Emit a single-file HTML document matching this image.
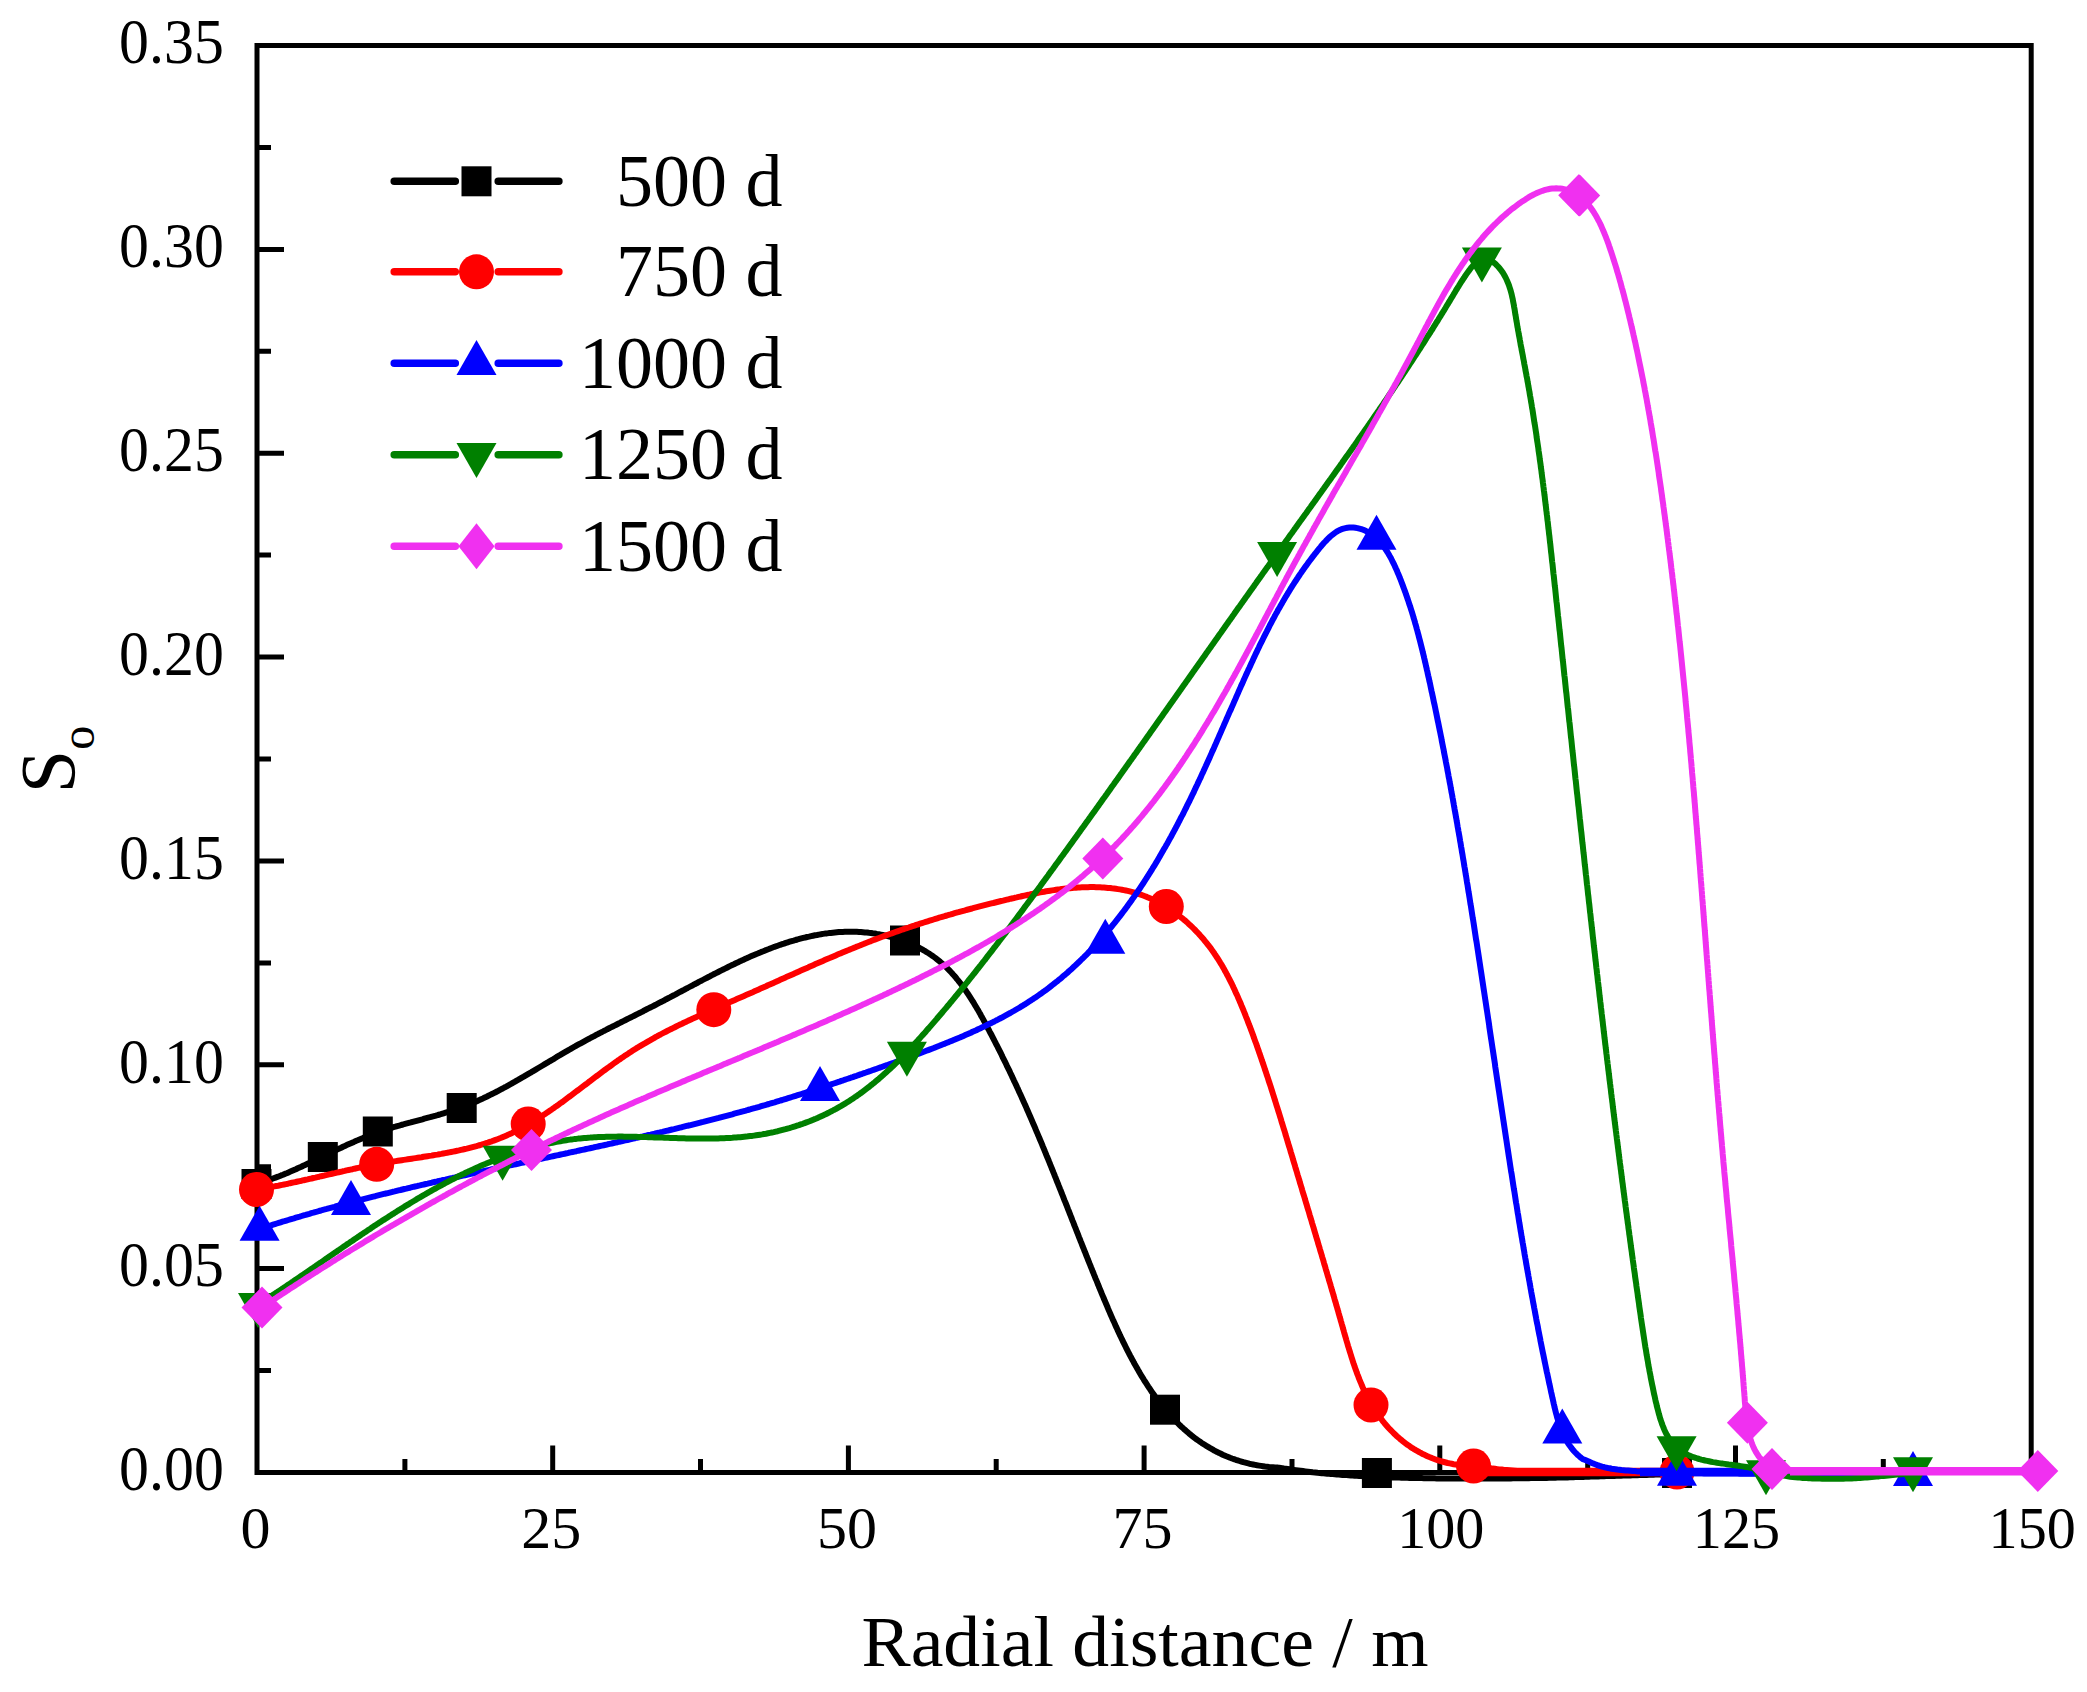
<!DOCTYPE html><html><head><meta charset="utf-8"><style>html,body{margin:0;padding:0;background:#fff;}svg{display:block;}</style></head><body>
<svg width="2087" height="1692" viewBox="0 0 2087 1692">
<rect width="2087" height="1692" fill="#fff"/>
<rect x="257.0" y="45.5" width="1774.2" height="1427.0" fill="none" stroke="#000" stroke-width="5"/>
<path d="M257.0,1268.6H284.0M257.0,1064.8H284.0M257.0,860.9H284.0M257.0,657.1H284.0M257.0,453.2H284.0M257.0,249.4H284.0M257.0,1370.6H271.0M257.0,1166.7H271.0M257.0,962.9H271.0M257.0,759.0H271.0M257.0,555.1H271.0M257.0,351.3H271.0M257.0,147.4H271.0M552.7,1472.5V1445.5M848.4,1472.5V1445.5M1144.1,1472.5V1445.5M1439.8,1472.5V1445.5M1735.5,1472.5V1445.5M404.9,1472.5V1459.0M700.5,1472.5V1459.0M996.2,1472.5V1459.0M1292.0,1472.5V1459.0M1587.7,1472.5V1459.0M1883.3,1472.5V1459.0" stroke="#000" stroke-width="5" fill="none"/>
<text transform="translate(223.8,1490.2) scale(0.935,1)" font-family="'Liberation Serif','Times New Roman',serif" font-size="64" text-anchor="end">0.00</text>
<text transform="translate(223.8,1286.3) scale(0.935,1)" font-family="'Liberation Serif','Times New Roman',serif" font-size="64" text-anchor="end">0.05</text>
<text transform="translate(223.8,1082.5) scale(0.935,1)" font-family="'Liberation Serif','Times New Roman',serif" font-size="64" text-anchor="end">0.10</text>
<text transform="translate(223.8,878.6) scale(0.935,1)" font-family="'Liberation Serif','Times New Roman',serif" font-size="64" text-anchor="end">0.15</text>
<text transform="translate(223.8,674.8) scale(0.935,1)" font-family="'Liberation Serif','Times New Roman',serif" font-size="64" text-anchor="end">0.20</text>
<text transform="translate(223.8,470.9) scale(0.935,1)" font-family="'Liberation Serif','Times New Roman',serif" font-size="64" text-anchor="end">0.25</text>
<text transform="translate(223.8,267.1) scale(0.935,1)" font-family="'Liberation Serif','Times New Roman',serif" font-size="64" text-anchor="end">0.30</text>
<text transform="translate(223.8,63.2) scale(0.935,1)" font-family="'Liberation Serif','Times New Roman',serif" font-size="64" text-anchor="end">0.35</text>
<text x="255.5" y="1548" font-family="'Liberation Serif','Times New Roman',serif" font-size="60" text-anchor="middle">0</text>
<text x="551.2" y="1548" font-family="'Liberation Serif','Times New Roman',serif" font-size="60" text-anchor="middle">25</text>
<text x="846.9" y="1548" font-family="'Liberation Serif','Times New Roman',serif" font-size="60" text-anchor="middle">50</text>
<text x="1142.6" y="1548" font-family="'Liberation Serif','Times New Roman',serif" font-size="60" text-anchor="middle">75</text>
<text transform="translate(1440.8,1548) scale(0.97,1)" font-family="'Liberation Serif','Times New Roman',serif" font-size="60" text-anchor="middle">100</text>
<text transform="translate(1736.5,1548) scale(0.97,1)" font-family="'Liberation Serif','Times New Roman',serif" font-size="60" text-anchor="middle">125</text>
<text transform="translate(2032.2,1548) scale(0.97,1)" font-family="'Liberation Serif','Times New Roman',serif" font-size="60" text-anchor="middle">150</text>
<text transform="translate(1145,1665.5) scale(1.024,1)" font-family="'Liberation Serif','Times New Roman',serif" font-size="72" text-anchor="middle">Radial distance / m</text>
<text transform="translate(74.2,759.5) rotate(-90)" font-family="'Liberation Serif','Times New Roman',serif" font-size="78" text-anchor="middle">S<tspan font-size="48" dy="20">o</tspan></text>
<path d="M256.5,1184.0L258.4,1183.5 260.3,1182.9 262.3,1182.3 264.2,1181.6 266.1,1181.0 268.0,1180.4 269.9,1179.7 271.7,1179.0 273.6,1178.3 275.5,1177.6 277.4,1176.9 279.2,1176.2 281.1,1175.4 283.0,1174.7 284.8,1173.9 286.7,1173.2 288.5,1172.4 290.4,1171.6 292.2,1170.8 294.0,1170.0 295.9,1169.2 297.7,1168.3 299.5,1167.5 301.4,1166.7 303.2,1165.8 305.0,1165.0 306.8,1164.1 308.6,1163.3 310.4,1162.4 312.2,1161.6 314.1,1160.7 315.9,1159.8 317.7,1159.0 319.5,1158.1 321.3,1157.2 323.1,1156.3 324.9,1155.5 326.7,1154.6 328.5,1153.7 330.3,1152.9 332.1,1152.0 333.9,1151.1 335.7,1150.3 337.5,1149.4 339.4,1148.5 341.2,1147.7 343.0,1146.8 344.8,1146.0 346.6,1145.1 348.4,1144.3 350.3,1143.5 352.1,1142.7 353.9,1141.9 355.8,1141.0 357.6,1140.3 359.5,1139.5 361.3,1138.7 363.2,1137.9 365.0,1137.2 366.9,1136.4 368.7,1135.7 370.6,1134.9 372.5,1134.2 374.4,1133.5 376.2,1132.8 378.1,1132.2 380.0,1131.5 381.9,1130.9 383.8,1130.2 385.7,1129.6 387.6,1129.0 389.6,1128.4 391.5,1127.8 393.4,1127.2 395.3,1126.7 397.2,1126.1 399.2,1125.6 401.1,1125.0 403.0,1124.5 405.0,1123.9 406.9,1123.4 408.8,1122.9 410.8,1122.4 412.7,1121.8 414.6,1121.3 416.6,1120.8 418.5,1120.3 420.5,1119.8 422.4,1119.3 424.3,1118.7 426.3,1118.2 428.2,1117.7 430.1,1117.2 432.1,1116.6 434.0,1116.1 435.9,1115.6 437.9,1115.0 439.8,1114.5 441.7,1113.9 443.6,1113.3 445.6,1112.7 447.5,1112.1 449.4,1111.5 451.3,1110.9 453.2,1110.3 455.1,1109.7 457.0,1109.0 458.9,1108.3 460.8,1107.7 462.7,1107.0 464.5,1106.3 466.4,1105.5 468.3,1104.8 470.1,1104.0 472.0,1103.3 473.8,1102.5 475.7,1101.7 477.5,1100.9 479.3,1100.1 481.1,1099.2 483.0,1098.4 484.8,1097.5 486.6,1096.7 488.4,1095.8 490.2,1094.9 492.0,1094.0 493.8,1093.1 495.6,1092.2 497.4,1091.3 499.1,1090.4 500.9,1089.4 502.7,1088.5 504.4,1087.5 506.2,1086.6 508.0,1085.6 509.7,1084.7 511.5,1083.7 513.2,1082.7 515.0,1081.7 516.7,1080.7 518.5,1079.7 520.2,1078.7 521.9,1077.7 523.7,1076.7 525.4,1075.7 527.1,1074.7 528.8,1073.7 530.6,1072.7 532.3,1071.6 534.0,1070.6 535.7,1069.6 537.5,1068.5 539.2,1067.5 540.9,1066.5 542.6,1065.5 544.4,1064.4 546.1,1063.4 547.8,1062.4 549.5,1061.3 551.2,1060.3 553.0,1059.3 554.7,1058.3 556.4,1057.2 558.1,1056.2 559.9,1055.2 561.6,1054.2 563.3,1053.2 565.0,1052.2 566.8,1051.1 568.5,1050.1 570.3,1049.1 572.0,1048.1 573.7,1047.2 575.5,1046.2 577.2,1045.2 579.0,1044.2 580.7,1043.3 582.5,1042.3 584.3,1041.3 586.0,1040.4 587.8,1039.4 589.6,1038.5 591.3,1037.5 593.1,1036.6 594.9,1035.7 596.7,1034.7 598.4,1033.8 600.2,1032.9 602.0,1032.0 603.8,1031.0 605.6,1030.1 607.3,1029.2 609.1,1028.3 610.9,1027.4 612.7,1026.5 614.5,1025.6 616.3,1024.7 618.1,1023.8 619.9,1022.9 621.6,1022.0 623.4,1021.1 625.2,1020.2 627.0,1019.3 628.8,1018.4 630.6,1017.5 632.4,1016.6 634.2,1015.7 636.0,1014.8 637.8,1013.9 639.6,1013.0 641.4,1012.1 643.2,1011.2 644.9,1010.2 646.7,1009.3 648.5,1008.4 650.3,1007.5 652.1,1006.6 653.9,1005.7 655.7,1004.8 657.4,1003.9 659.2,1002.9 661.0,1002.0 662.8,1001.1 664.6,1000.2 666.3,999.2 668.1,998.3 669.9,997.4 671.7,996.4 673.4,995.5 675.2,994.6 677.0,993.6 678.7,992.7 680.5,991.7 682.3,990.8 684.1,989.9 685.8,988.9 687.6,988.0 689.4,987.0 691.1,986.1 692.9,985.2 694.7,984.2 696.5,983.3 698.2,982.3 700.0,981.4 701.8,980.5 703.6,979.5 705.3,978.6 707.1,977.7 708.9,976.8 710.7,975.8 712.5,974.9 714.2,974.0 716.0,973.1 717.8,972.2 719.6,971.3 721.4,970.4 723.2,969.5 725.0,968.6 726.8,967.7 728.6,966.8 730.4,965.9 732.2,965.0 734.0,964.2 735.8,963.3 737.6,962.5 739.4,961.6 741.2,960.8 743.1,959.9 744.9,959.1 746.7,958.3 748.5,957.4 750.4,956.6 752.2,955.8 754.1,955.0 755.9,954.2 757.7,953.5 759.6,952.7 761.4,951.9 763.3,951.2 765.2,950.4 767.0,949.7 768.9,949.0 770.8,948.2 772.7,947.5 774.5,946.8 776.4,946.2 778.3,945.5 780.2,944.8 782.1,944.2 784.0,943.6 785.9,942.9 787.8,942.3 789.7,941.7 791.7,941.1 793.6,940.6 795.5,940.0 797.4,939.5 799.4,938.9 801.3,938.4 803.3,937.9 805.2,937.5 807.1,937.0 809.1,936.6 811.1,936.1 813.0,935.7 815.0,935.3 817.0,935.0 818.9,934.6 820.9,934.3 822.9,933.9 824.9,933.6 826.9,933.4 828.9,933.1 830.8,932.9 832.8,932.7 834.8,932.5 836.8,932.3 838.8,932.1 840.8,932.0 842.8,931.9 844.8,931.8 846.8,931.8 848.8,931.7 850.9,931.7 852.9,931.7 854.9,931.8 856.9,931.8 858.9,931.9 860.9,932.0 862.9,932.2 864.9,932.4 866.9,932.5 868.9,932.8 870.8,933.0 872.8,933.3 874.8,933.5 876.8,933.9 878.8,934.2 880.7,934.6 882.7,935.0 884.7,935.4 886.6,935.8 888.6,936.3 890.5,936.8 892.5,937.3 894.4,937.9 896.3,938.5 898.2,939.1 900.1,939.7 902.0,940.3 903.9,941.0 905.8,941.7 907.6,942.5 909.5,943.2 911.3,944.0 913.2,944.9 915.0,945.7 916.8,946.6 918.6,947.5 920.3,948.4 922.1,949.4 923.8,950.4 925.6,951.4 927.3,952.5 929.0,953.5 930.6,954.6 932.3,955.8 933.9,956.9 935.6,958.1 937.1,959.3 938.7,960.6 940.3,961.9 941.8,963.2 943.3,964.5 944.8,965.8 946.2,967.2 947.6,968.6 949.1,970.1 950.4,971.5 951.8,973.0 953.1,974.5 954.5,976.0 955.8,977.5 957.0,979.1 958.3,980.6 959.5,982.2 960.8,983.8 962.0,985.4 963.2,987.0 964.3,988.6 965.5,990.3 966.6,991.9 967.7,993.6 968.9,995.3 969.9,996.9 971.0,998.6 972.1,1000.3 973.2,1002.0 974.2,1003.7 975.2,1005.4 976.3,1007.2 977.3,1008.9 978.3,1010.6 979.3,1012.4 980.3,1014.1 981.2,1015.9 982.2,1017.6 983.2,1019.4 984.1,1021.1 985.1,1022.9 986.0,1024.7 987.0,1026.4 987.9,1028.2 988.9,1030.0 989.8,1031.8 990.7,1033.5 991.7,1035.3 992.6,1037.1 993.5,1038.9 994.4,1040.7 995.3,1042.4 996.2,1044.2 997.2,1046.0 998.1,1047.8 999.0,1049.6 999.9,1051.4 1000.8,1053.2 1001.7,1055.0 1002.5,1056.8 1003.4,1058.6 1004.3,1060.4 1005.2,1062.2 1006.1,1064.0 1006.9,1065.8 1007.8,1067.6 1008.7,1069.4 1009.6,1071.2 1010.4,1073.0 1011.3,1074.8 1012.1,1076.6 1013.0,1078.5 1013.8,1080.3 1014.7,1082.1 1015.5,1083.9 1016.4,1085.7 1017.2,1087.5 1018.1,1089.4 1018.9,1091.2 1019.7,1093.0 1020.6,1094.8 1021.4,1096.7 1022.2,1098.5 1023.0,1100.3 1023.8,1102.2 1024.7,1104.0 1025.5,1105.8 1026.3,1107.6 1027.1,1109.5 1027.9,1111.3 1028.7,1113.2 1029.5,1115.0 1030.3,1116.8 1031.1,1118.7 1031.9,1120.5 1032.7,1122.4 1033.5,1124.2 1034.3,1126.0 1035.1,1127.9 1035.8,1129.7 1036.6,1131.6 1037.4,1133.4 1038.2,1135.3 1039.0,1137.1 1039.7,1139.0 1040.5,1140.8 1041.3,1142.7 1042.1,1144.5 1042.8,1146.4 1043.6,1148.2 1044.4,1150.1 1045.1,1151.9 1045.9,1153.8 1046.6,1155.6 1047.4,1157.5 1048.2,1159.4 1048.9,1161.2 1049.7,1163.1 1050.4,1164.9 1051.2,1166.8 1051.9,1168.7 1052.7,1170.5 1053.4,1172.4 1054.2,1174.2 1054.9,1176.1 1055.7,1178.0 1056.4,1179.8 1057.1,1181.7 1057.9,1183.5 1058.6,1185.4 1059.4,1187.3 1060.1,1189.1 1060.9,1191.0 1061.6,1192.9 1062.3,1194.7 1063.1,1196.6 1063.8,1198.5 1064.5,1200.3 1065.3,1202.2 1066.0,1204.0 1066.8,1205.9 1067.5,1207.8 1068.2,1209.6 1069.0,1211.5 1069.7,1213.4 1070.4,1215.2 1071.2,1217.1 1071.9,1219.0 1072.6,1220.8 1073.4,1222.7 1074.1,1224.6 1074.8,1226.4 1075.6,1228.3 1076.3,1230.2 1077.0,1232.0 1077.8,1233.9 1078.5,1235.8 1079.2,1237.6 1080.0,1239.5 1080.7,1241.4 1081.5,1243.2 1082.2,1245.1 1082.9,1247.0 1083.7,1248.8 1084.4,1250.7 1085.2,1252.5 1085.9,1254.4 1086.6,1256.3 1087.4,1258.1 1088.1,1260.0 1088.9,1261.9 1089.6,1263.7 1090.4,1265.6 1091.1,1267.4 1091.9,1269.3 1092.6,1271.2 1093.4,1273.0 1094.1,1274.9 1094.9,1276.7 1095.6,1278.6 1096.4,1280.4 1097.2,1282.3 1097.9,1284.2 1098.7,1286.0 1099.4,1287.9 1100.2,1289.7 1101.0,1291.6 1101.7,1293.4 1102.5,1295.3 1103.3,1297.1 1104.0,1299.0 1104.8,1300.8 1105.6,1302.7 1106.4,1304.5 1107.2,1306.4 1107.9,1308.2 1108.7,1310.1 1109.5,1311.9 1110.3,1313.7 1111.1,1315.6 1111.9,1317.4 1112.7,1319.2 1113.6,1321.1 1114.4,1322.9 1115.2,1324.7 1116.0,1326.6 1116.9,1328.4 1117.7,1330.2 1118.5,1332.0 1119.4,1333.9 1120.2,1335.7 1121.1,1337.5 1122.0,1339.3 1122.8,1341.1 1123.7,1342.9 1124.6,1344.7 1125.5,1346.5 1126.4,1348.3 1127.3,1350.1 1128.2,1351.9 1129.1,1353.6 1130.0,1355.4 1131.0,1357.2 1131.9,1359.0 1132.9,1360.7 1133.8,1362.5 1134.8,1364.3 1135.8,1366.0 1136.8,1367.7 1137.8,1369.5 1138.8,1371.2 1139.8,1373.0 1140.8,1374.7 1141.8,1376.4 1142.9,1378.1 1143.9,1379.8 1145.0,1381.5 1146.1,1383.2 1147.2,1384.9 1148.3,1386.6 1149.4,1388.2 1150.5,1389.9 1151.6,1391.6 1152.8,1393.2 1153.9,1394.8 1155.1,1396.5 1156.3,1398.1 1157.5,1399.7 1158.7,1401.3 1159.9,1402.9 1161.1,1404.5 1162.4,1406.0 1163.7,1407.6 1164.9,1409.1 1166.2,1410.7 1167.5,1412.2 1168.8,1413.7 1170.2,1415.2 1171.5,1416.7 1172.9,1418.2 1174.3,1419.6 1175.7,1421.1 1177.1,1422.5 1178.5,1423.9 1179.9,1425.3 1181.4,1426.7 1182.9,1428.0 1184.3,1429.4 1185.9,1430.7 1187.4,1432.0 1188.9,1433.3 1190.5,1434.6 1192.0,1435.8 1193.6,1437.1 1195.2,1438.3 1196.8,1439.5 1198.4,1440.6 1200.1,1441.8 1201.7,1442.9 1203.4,1444.0 1205.1,1445.1 1206.8,1446.2 1208.5,1447.2 1210.2,1448.2 1212.0,1449.2 1213.7,1450.2 1215.5,1451.1 1217.3,1452.1 1219.1,1452.9 1220.9,1453.8 1222.7,1454.7 1224.5,1455.5 1226.4,1456.3 1228.2,1457.0 1230.1,1457.8 1232.0,1458.5 1233.9,1459.1 1235.8,1459.8 1237.7,1460.4 1239.6,1461.0 1241.5,1461.6 1243.4,1462.2 1245.4,1462.7 1247.3,1463.2 1249.3,1463.7 1251.2,1464.1 1253.2,1464.5 1255.1,1464.9 1257.1,1465.3 1259.1,1465.6 1261.1,1465.9 1263.0,1466.2 1265.0,1466.5 1267.0,1466.7 1269.0,1467.0 1271.0,1467.2 1273.0,1467.3 1275.0,1467.5 1276.9,1467.5 1278.0,1467.6 1279.3,1467.8 1280.7,1468.0 1282.2,1468.2 1283.9,1468.5 1285.7,1468.7 1287.6,1469.0 1289.6,1469.3 1291.6,1469.6 1293.8,1469.9 1296.0,1470.2 1298.3,1470.5 1300.6,1470.8 1303.0,1471.1 1305.4,1471.4 1307.9,1471.7 1310.3,1472.0 1312.7,1472.3 1315.2,1472.5 1317.6,1472.8 1320.0,1473.0 1321.8,1473.2 1323.6,1473.3 1325.4,1473.5 1327.3,1473.7 1329.1,1473.8 1331.0,1474.0 1332.9,1474.1 1334.8,1474.3 1336.7,1474.4 1338.6,1474.6 1340.6,1474.7 1342.6,1474.9 1344.6,1475.0 1346.6,1475.1 1348.6,1475.3 1350.7,1475.4 1352.7,1475.5 1354.8,1475.7 1356.9,1475.8 1359.1,1475.9 1361.2,1476.0 1363.4,1476.2 1365.6,1476.3 1367.8,1476.4 1370.0,1476.5 1372.3,1476.6 1374.6,1476.7 1376.9,1476.8 1378.7,1476.9 1380.5,1476.9 1382.4,1477.0 1384.2,1477.1 1386.1,1477.2 1388.0,1477.2 1389.8,1477.3 1391.7,1477.4 1393.6,1477.4 1395.6,1477.5 1397.5,1477.5 1399.4,1477.6 1401.4,1477.7 1403.4,1477.7 1405.4,1477.8 1407.4,1477.8 1409.4,1477.9 1411.4,1477.9 1413.4,1478.0 1415.5,1478.0 1417.5,1478.1 1419.6,1478.1 1421.7,1478.1 1423.8,1478.2 1425.9,1478.2 1428.0,1478.2 1430.2,1478.3 1432.3,1478.3 1434.5,1478.3 1436.7,1478.4 1438.8,1478.4 1441.0,1478.4 1443.3,1478.4 1445.5,1478.5 1447.7,1478.5 1450.0,1478.5 1451.8,1478.5 1453.7,1478.5 1455.6,1478.5 1457.4,1478.5 1459.4,1478.5 1461.3,1478.6 1463.3,1478.6 1465.2,1478.6 1467.2,1478.6 1469.2,1478.6 1471.3,1478.6 1473.3,1478.6 1475.4,1478.6 1477.4,1478.6 1479.5,1478.6 1481.6,1478.5 1483.7,1478.5 1485.7,1478.5 1487.8,1478.5 1489.9,1478.5 1492.0,1478.5 1494.1,1478.5 1496.2,1478.5 1498.3,1478.5 1500.4,1478.4 1502.5,1478.4 1504.6,1478.4 1506.7,1478.4 1508.8,1478.4 1510.9,1478.4 1512.9,1478.3 1515.0,1478.3 1517.0,1478.3 1519.0,1478.3 1521.0,1478.3 1523.0,1478.2 1525.0,1478.2 1526.9,1478.2 1528.9,1478.2 1530.8,1478.1 1532.7,1478.1 1534.5,1478.1 1536.4,1478.1 1538.2,1478.0 1540.0,1478.0 1542.3,1478.0 1544.5,1477.9 1546.7,1477.9 1548.9,1477.8 1551.1,1477.8 1553.2,1477.7 1555.3,1477.7 1557.4,1477.6 1559.5,1477.6 1561.5,1477.5 1563.6,1477.5 1565.6,1477.4 1567.6,1477.4 1569.6,1477.3 1571.6,1477.2 1573.5,1477.2 1575.5,1477.1 1577.4,1477.1 1579.3,1477.0 1581.3,1476.9 1583.2,1476.9 1585.1,1476.8 1587.0,1476.7 1588.9,1476.7 1590.8,1476.6 1592.7,1476.6 1594.6,1476.5 1596.5,1476.4 1598.4,1476.4 1600.3,1476.3 1602.3,1476.2 1604.2,1476.2 1606.1,1476.1 1608.0,1476.1 1610.0,1476.0 1612.1,1475.9 1614.3,1475.9 1616.5,1475.8 1618.7,1475.7 1621.0,1475.7 1623.3,1475.6 1625.6,1475.5 1627.9,1475.5 1630.3,1475.4 1632.7,1475.3 1635.0,1475.3 1637.4,1475.2 1639.8,1475.1 1642.1,1475.0 1644.4,1475.0 1646.7,1474.9 1649.0,1474.8 1651.2,1474.8 1653.4,1474.7 1655.6,1474.6 1657.7,1474.6 1659.7,1474.5 1661.7,1474.5 1663.6,1474.4 1665.5,1474.3 1667.3,1474.3 1668.9,1474.2 1670.5,1474.2 1672.0,1474.1 1673.4,1474.1 1674.7,1474.1 1675.9,1474.0 1677.0,1474.0" fill="none" stroke="#000000" stroke-width="6" stroke-linejoin="round" stroke-linecap="round"/>
<rect x="241.5" y="1169.0" width="30" height="30" fill="#000000"/>
<rect x="307.8" y="1142.0" width="30" height="30" fill="#000000"/>
<rect x="362.8" y="1116.5" width="30" height="30" fill="#000000"/>
<rect x="446.7" y="1093.0" width="30" height="30" fill="#000000"/>
<rect x="890.0" y="925.5" width="30" height="30" fill="#000000"/>
<rect x="1150.0" y="1394.7" width="30" height="30" fill="#000000"/>
<rect x="1361.9" y="1458.0" width="30" height="30" fill="#000000"/>
<rect x="1662.0" y="1458.0" width="30" height="30" fill="#000000"/>
<path d="M256.5,1189.5L258.5,1189.2 260.5,1188.9 262.4,1188.6 264.4,1188.2 266.4,1187.9 268.4,1187.5 270.3,1187.2 272.3,1186.8 274.3,1186.4 276.2,1186.0 278.2,1185.7 280.2,1185.3 282.1,1184.9 284.1,1184.5 286.0,1184.1 288.0,1183.7 290.0,1183.2 291.9,1182.8 293.9,1182.4 295.8,1182.0 297.8,1181.5 299.8,1181.1 301.7,1180.7 303.7,1180.2 305.6,1179.8 307.6,1179.4 309.5,1178.9 311.5,1178.5 313.4,1178.0 315.4,1177.6 317.3,1177.1 319.3,1176.7 321.2,1176.2 323.2,1175.8 325.1,1175.3 327.1,1174.9 329.1,1174.4 331.0,1174.0 333.0,1173.5 334.9,1173.1 336.9,1172.6 338.8,1172.2 340.8,1171.8 342.7,1171.3 344.7,1170.9 346.6,1170.4 348.6,1170.0 350.5,1169.6 352.5,1169.2 354.5,1168.7 356.4,1168.3 358.4,1167.9 360.3,1167.5 362.3,1167.1 364.3,1166.7 366.2,1166.3 368.2,1165.9 370.2,1165.6 372.1,1165.2 374.1,1164.8 376.1,1164.5 378.0,1164.1 380.0,1163.7 382.0,1163.4 384.0,1163.1 385.9,1162.7 387.9,1162.4 389.9,1162.1 391.9,1161.8 393.9,1161.4 395.8,1161.1 397.8,1160.8 399.8,1160.5 401.8,1160.2 403.7,1159.9 405.7,1159.6 407.7,1159.3 409.7,1159.0 411.7,1158.7 413.6,1158.4 415.6,1158.1 417.6,1157.8 419.6,1157.5 421.6,1157.2 423.5,1156.8 425.5,1156.5 427.5,1156.2 429.5,1155.9 431.5,1155.6 433.4,1155.2 435.4,1154.9 437.4,1154.6 439.4,1154.2 441.3,1153.9 443.3,1153.5 445.3,1153.1 447.2,1152.8 449.2,1152.4 451.2,1152.0 453.1,1151.6 455.1,1151.2 457.1,1150.8 459.0,1150.4 461.0,1149.9 462.9,1149.5 464.9,1149.0 466.8,1148.6 468.8,1148.1 470.7,1147.6 472.6,1147.1 474.6,1146.6 476.5,1146.1 478.4,1145.5 480.4,1145.0 482.3,1144.4 484.2,1143.8 486.1,1143.2 488.0,1142.6 489.9,1141.9 491.8,1141.3 493.7,1140.6 495.6,1139.9 497.5,1139.2 499.3,1138.5 501.2,1137.8 503.0,1137.0 504.9,1136.2 506.7,1135.4 508.5,1134.6 510.4,1133.7 512.2,1132.9 514.0,1132.0 515.8,1131.1 517.6,1130.2 519.3,1129.3 521.1,1128.4 522.9,1127.4 524.6,1126.4 526.4,1125.5 528.1,1124.5 529.8,1123.5 531.6,1122.4 533.3,1121.4 535.0,1120.4 536.7,1119.3 538.4,1118.2 540.1,1117.2 541.8,1116.1 543.4,1115.0 545.1,1113.9 546.8,1112.8 548.4,1111.7 550.1,1110.5 551.8,1109.4 553.4,1108.3 555.0,1107.1 556.7,1106.0 558.3,1104.8 559.9,1103.6 561.6,1102.5 563.2,1101.3 564.8,1100.1 566.4,1098.9 568.0,1097.7 569.6,1096.5 571.2,1095.3 572.8,1094.1 574.4,1092.9 576.0,1091.7 577.6,1090.5 579.2,1089.3 580.8,1088.1 582.4,1086.9 584.0,1085.7 585.6,1084.5 587.2,1083.3 588.8,1082.0 590.4,1080.8 592.0,1079.6 593.6,1078.4 595.2,1077.2 596.8,1076.0 598.4,1074.8 600.0,1073.6 601.6,1072.4 603.2,1071.2 604.8,1070.0 606.4,1068.8 608.1,1067.6 609.7,1066.5 611.3,1065.3 612.9,1064.1 614.6,1062.9 616.2,1061.8 617.8,1060.6 619.5,1059.5 621.1,1058.3 622.8,1057.2 624.4,1056.1 626.1,1055.0 627.8,1053.9 629.4,1052.8 631.1,1051.7 632.8,1050.6 634.5,1049.5 636.2,1048.4 637.9,1047.4 639.6,1046.3 641.3,1045.3 643.0,1044.3 644.8,1043.3 646.5,1042.3 648.2,1041.3 650.0,1040.3 651.7,1039.3 653.5,1038.3 655.2,1037.3 657.0,1036.4 658.7,1035.4 660.5,1034.5 662.3,1033.5 664.0,1032.6 665.8,1031.7 667.6,1030.8 669.4,1029.9 671.2,1029.0 673.0,1028.1 674.8,1027.2 676.6,1026.3 678.4,1025.4 680.2,1024.5 682.0,1023.7 683.8,1022.8 685.6,1022.0 687.4,1021.1 689.2,1020.2 691.0,1019.4 692.8,1018.6 694.7,1017.7 696.5,1016.9 698.3,1016.1 700.1,1015.2 702.0,1014.4 703.8,1013.6 705.6,1012.8 707.4,1012.0 709.3,1011.1 711.1,1010.3 712.9,1009.5 714.8,1008.7 716.6,1007.9 718.4,1007.1 720.3,1006.3 722.1,1005.5 723.9,1004.7 725.8,1003.9 727.6,1003.1 729.5,1002.3 731.3,1001.5 733.1,1000.7 735.0,999.9 736.8,999.1 738.6,998.3 740.5,997.5 742.3,996.7 744.1,995.9 746.0,995.1 747.8,994.3 749.6,993.5 751.5,992.7 753.3,991.9 755.1,991.0 757.0,990.2 758.8,989.4 760.6,988.6 762.5,987.8 764.3,987.0 766.1,986.2 767.9,985.3 769.8,984.5 771.6,983.7 773.4,982.9 775.3,982.1 777.1,981.2 778.9,980.4 780.7,979.6 782.6,978.8 784.4,978.0 786.2,977.1 788.1,976.3 789.9,975.5 791.7,974.7 793.5,973.9 795.4,973.1 797.2,972.2 799.0,971.4 800.9,970.6 802.7,969.8 804.5,969.0 806.4,968.2 808.2,967.4 810.0,966.5 811.9,965.7 813.7,964.9 815.5,964.1 817.4,963.3 819.2,962.5 821.0,961.7 822.9,960.9 824.7,960.1 826.5,959.3 828.4,958.5 830.2,957.8 832.1,957.0 833.9,956.2 835.7,955.4 837.6,954.6 839.4,953.8 841.3,953.1 843.1,952.3 845.0,951.5 846.8,950.7 848.7,950.0 850.5,949.2 852.4,948.5 854.2,947.7 856.1,946.9 858.0,946.2 859.8,945.5 861.7,944.7 863.5,944.0 865.4,943.2 867.3,942.5 869.1,941.8 871.0,941.1 872.9,940.3 874.7,939.6 876.6,938.9 878.5,938.2 880.4,937.5 882.2,936.8 884.1,936.1 886.0,935.4 887.9,934.7 889.8,934.0 891.7,933.4 893.5,932.7 895.4,932.0 897.3,931.4 899.2,930.7 901.1,930.0 903.0,929.4 904.9,928.7 906.8,928.1 908.7,927.5 910.6,926.8 912.5,926.2 914.4,925.6 916.3,924.9 918.2,924.3 920.1,923.7 922.0,923.1 923.9,922.5 925.8,921.9 927.7,921.3 929.6,920.7 931.6,920.1 933.5,919.5 935.4,918.9 937.3,918.3 939.2,917.7 941.1,917.2 943.1,916.6 945.0,916.0 946.9,915.5 948.8,914.9 950.8,914.4 952.7,913.8 954.6,913.2 956.5,912.7 958.5,912.2 960.4,911.6 962.3,911.1 964.3,910.6 966.2,910.0 968.1,909.5 970.1,909.0 972.0,908.5 973.9,907.9 975.9,907.4 977.8,906.9 979.7,906.4 981.7,905.9 983.6,905.4 985.6,904.9 987.5,904.4 989.4,903.9 991.4,903.4 993.3,903.0 995.3,902.5 997.2,902.0 999.2,901.5 1001.1,901.0 1003.1,900.6 1005.0,900.1 1006.9,899.6 1008.9,899.2 1010.8,898.7 1012.8,898.3 1014.7,897.8 1016.7,897.4 1018.7,896.9 1020.6,896.5 1022.6,896.0 1024.5,895.6 1026.5,895.2 1028.4,894.8 1030.4,894.3 1032.4,893.9 1034.3,893.5 1036.3,893.2 1038.3,892.8 1040.2,892.4 1042.2,892.0 1044.2,891.7 1046.1,891.3 1048.1,891.0 1050.1,890.7 1052.1,890.4 1054.0,890.1 1056.0,889.8 1058.0,889.5 1060.0,889.3 1062.0,889.0 1064.0,888.8 1066.0,888.6 1068.0,888.3 1070.0,888.2 1072.0,888.0 1073.9,887.8 1075.9,887.7 1077.9,887.5 1079.9,887.4 1081.9,887.3 1083.9,887.3 1085.9,887.2 1088.0,887.2 1090.0,887.1 1092.0,887.1 1094.0,887.1 1096.0,887.2 1098.0,887.2 1100.0,887.3 1102.0,887.4 1104.0,887.5 1106.0,887.7 1108.0,887.9 1110.0,888.0 1111.9,888.3 1113.9,888.5 1115.9,888.8 1117.9,889.1 1119.9,889.4 1121.9,889.7 1123.8,890.1 1125.8,890.5 1127.7,890.9 1129.7,891.4 1131.6,891.9 1133.6,892.4 1135.5,893.0 1137.4,893.6 1139.3,894.2 1141.2,894.8 1143.1,895.5 1145.0,896.2 1146.8,896.9 1148.7,897.7 1150.5,898.5 1152.3,899.3 1154.1,900.2 1155.9,901.1 1157.7,902.0 1159.5,902.9 1161.3,903.9 1163.0,904.9 1164.7,905.9 1166.4,906.9 1168.1,908.0 1169.8,909.1 1171.5,910.2 1173.1,911.3 1174.8,912.5 1176.4,913.7 1178.0,914.9 1179.6,916.1 1181.1,917.4 1182.7,918.6 1184.2,919.9 1185.8,921.2 1187.3,922.5 1188.7,923.9 1190.2,925.2 1191.7,926.6 1193.1,928.0 1194.5,929.4 1195.9,930.9 1197.3,932.3 1198.7,933.8 1200.0,935.3 1201.3,936.7 1202.7,938.3 1204.0,939.8 1205.2,941.3 1206.5,942.9 1207.7,944.5 1209.0,946.0 1210.2,947.6 1211.4,949.3 1212.5,950.9 1213.7,952.5 1214.8,954.2 1215.9,955.8 1217.0,957.5 1218.1,959.2 1219.2,960.9 1220.2,962.6 1221.3,964.3 1222.3,966.0 1223.3,967.8 1224.3,969.5 1225.2,971.3 1226.2,973.0 1227.1,974.8 1228.1,976.6 1229.0,978.3 1229.9,980.1 1230.8,981.9 1231.7,983.7 1232.6,985.5 1233.4,987.3 1234.3,989.1 1235.1,991.0 1235.9,992.8 1236.8,994.6 1237.6,996.4 1238.4,998.3 1239.2,1000.1 1240.0,1002.0 1240.8,1003.8 1241.5,1005.6 1242.3,1007.5 1243.1,1009.4 1243.8,1011.2 1244.6,1013.1 1245.3,1014.9 1246.0,1016.8 1246.8,1018.7 1247.5,1020.5 1248.2,1022.4 1248.9,1024.3 1249.7,1026.1 1250.4,1028.0 1251.1,1029.9 1251.8,1031.8 1252.5,1033.6 1253.2,1035.5 1253.8,1037.4 1254.5,1039.3 1255.2,1041.2 1255.9,1043.0 1256.6,1044.9 1257.2,1046.8 1257.9,1048.7 1258.6,1050.6 1259.2,1052.5 1259.9,1054.4 1260.5,1056.3 1261.2,1058.2 1261.8,1060.1 1262.5,1062.0 1263.1,1063.9 1263.8,1065.8 1264.4,1067.7 1265.0,1069.6 1265.7,1071.5 1266.3,1073.4 1266.9,1075.3 1267.6,1077.2 1268.2,1079.1 1268.8,1081.0 1269.4,1082.9 1270.1,1084.8 1270.7,1086.7 1271.3,1088.6 1271.9,1090.5 1272.5,1092.4 1273.1,1094.3 1273.7,1096.2 1274.3,1098.1 1274.9,1100.0 1275.5,1102.0 1276.1,1103.9 1276.7,1105.8 1277.3,1107.7 1277.9,1109.6 1278.5,1111.5 1279.1,1113.4 1279.7,1115.3 1280.3,1117.3 1280.9,1119.2 1281.4,1121.1 1282.0,1123.0 1282.6,1124.9 1283.2,1126.8 1283.8,1128.8 1284.4,1130.7 1285.0,1132.6 1285.5,1134.5 1286.1,1136.4 1286.7,1138.3 1287.3,1140.3 1287.8,1142.2 1288.4,1144.1 1289.0,1146.0 1289.6,1147.9 1290.2,1149.8 1290.7,1151.8 1291.3,1153.7 1291.9,1155.6 1292.5,1157.5 1293.0,1159.4 1293.6,1161.4 1294.2,1163.3 1294.8,1165.2 1295.3,1167.1 1295.9,1169.0 1296.5,1171.0 1297.1,1172.9 1297.6,1174.8 1298.2,1176.7 1298.8,1178.6 1299.4,1180.5 1299.9,1182.5 1300.5,1184.4 1301.1,1186.3 1301.7,1188.2 1302.2,1190.1 1302.8,1192.1 1303.4,1194.0 1304.0,1195.9 1304.6,1197.8 1305.1,1199.7 1305.7,1201.6 1306.3,1203.6 1306.9,1205.5 1307.4,1207.4 1308.0,1209.3 1308.6,1211.2 1309.2,1213.2 1309.7,1215.1 1310.3,1217.0 1310.9,1218.9 1311.5,1220.8 1312.0,1222.8 1312.6,1224.7 1313.2,1226.6 1313.8,1228.5 1314.3,1230.4 1314.9,1232.4 1315.5,1234.3 1316.0,1236.2 1316.6,1238.1 1317.2,1240.0 1317.8,1241.9 1318.3,1243.9 1318.9,1245.8 1319.5,1247.7 1320.0,1249.6 1320.6,1251.5 1321.2,1253.5 1321.8,1255.4 1322.3,1257.3 1322.9,1259.2 1323.5,1261.2 1324.0,1263.1 1324.6,1265.0 1325.2,1266.9 1325.7,1268.8 1326.3,1270.8 1326.9,1272.7 1327.4,1274.6 1328.0,1276.5 1328.6,1278.4 1329.1,1280.4 1329.7,1282.3 1330.3,1284.2 1330.8,1286.1 1331.4,1288.1 1331.9,1290.0 1332.5,1291.9 1333.1,1293.8 1333.6,1295.7 1334.2,1297.7 1334.7,1299.6 1335.3,1301.5 1335.9,1303.4 1336.4,1305.4 1337.0,1307.3 1337.5,1309.2 1338.1,1311.1 1338.6,1313.1 1339.2,1315.0 1339.7,1316.9 1340.3,1318.8 1340.8,1320.8 1341.4,1322.7 1341.9,1324.6 1342.5,1326.5 1343.0,1328.5 1343.6,1330.4 1344.1,1332.3 1344.7,1334.3 1345.2,1336.2 1345.8,1338.1 1346.3,1340.0 1346.9,1342.0 1347.5,1343.9 1348.0,1345.8 1348.6,1347.7 1349.2,1349.6 1349.8,1351.5 1350.4,1353.5 1351.0,1355.4 1351.6,1357.3 1352.2,1359.2 1352.8,1361.1 1353.4,1363.0 1354.1,1364.9 1354.7,1366.8 1355.4,1368.7 1356.1,1370.6 1356.7,1372.4 1357.4,1374.3 1358.2,1376.2 1358.9,1378.1 1359.6,1379.9 1360.4,1381.8 1361.2,1383.6 1361.9,1385.5 1362.7,1387.3 1363.6,1389.1 1364.4,1391.0 1365.3,1392.8 1366.1,1394.6 1367.0,1396.4 1368.0,1398.1 1368.9,1399.9 1369.9,1401.7 1370.8,1403.4 1371.8,1405.1 1372.9,1406.9 1373.9,1408.6 1375.0,1410.2 1376.1,1411.9 1377.2,1413.6 1378.4,1415.2 1379.6,1416.8 1380.8,1418.4 1382.0,1420.0 1383.2,1421.6 1384.5,1423.2 1385.8,1424.7 1387.1,1426.2 1388.4,1427.7 1389.8,1429.2 1391.2,1430.6 1392.6,1432.0 1394.0,1433.5 1395.4,1434.8 1396.9,1436.2 1398.4,1437.5 1399.9,1438.8 1401.5,1440.1 1403.0,1441.4 1404.6,1442.6 1406.2,1443.8 1407.8,1445.0 1409.5,1446.1 1411.1,1447.3 1412.8,1448.3 1414.5,1449.4 1416.2,1450.4 1418.0,1451.4 1419.7,1452.4 1421.5,1453.3 1423.3,1454.3 1425.1,1455.1 1426.9,1456.0 1428.7,1456.8 1430.6,1457.5 1432.4,1458.3 1434.3,1459.0 1436.2,1459.7 1438.1,1460.3 1440.0,1460.9 1441.9,1461.5 1443.9,1462.0 1445.8,1462.5 1447.7,1463.0 1449.7,1463.4 1451.7,1463.8 1453.6,1464.2 1455.6,1464.5 1457.6,1464.8 1459.6,1465.1 1461.6,1465.3 1463.6,1465.5 1465.6,1465.6 1467.6,1465.8 1469.6,1465.9 1471.6,1465.9 1473.5,1466.0 1474.6,1466.1 1475.7,1466.3 1477.0,1466.4 1478.4,1466.6 1479.9,1466.8 1481.5,1467.0 1483.1,1467.3 1484.9,1467.5 1486.8,1467.8 1488.7,1468.0 1490.7,1468.3 1492.8,1468.6 1495.0,1468.8 1497.2,1469.1 1499.5,1469.4 1501.9,1469.6 1504.3,1469.9 1506.8,1470.1 1509.3,1470.3 1511.9,1470.5 1514.6,1470.7 1517.3,1470.9 1520.0,1471.0 1521.6,1471.1 1523.2,1471.1 1524.9,1471.2 1526.7,1471.3 1528.4,1471.3 1530.2,1471.4 1532.0,1471.4 1533.9,1471.5 1535.8,1471.5 1537.7,1471.6 1539.7,1471.6 1541.6,1471.6 1543.6,1471.7 1545.6,1471.7 1547.7,1471.7 1549.7,1471.7 1551.8,1471.8 1553.9,1471.8 1556.0,1471.8 1558.1,1471.8 1560.2,1471.8 1562.3,1471.8 1564.5,1471.9 1566.6,1471.9 1568.7,1471.9 1570.9,1471.9 1573.0,1471.9 1575.2,1471.9 1577.3,1471.9 1579.4,1471.9 1581.5,1471.9 1583.7,1471.9 1585.8,1471.9 1587.8,1471.9 1589.9,1472.0 1592.0,1472.0 1594.0,1472.0 1596.0,1472.0 1598.0,1472.0 1600.0,1472.0 1602.1,1472.0 1604.2,1472.0 1606.4,1472.0 1608.6,1472.0 1610.9,1472.0 1613.1,1472.1 1615.4,1472.1 1617.8,1472.1 1620.1,1472.1 1622.4,1472.1 1624.8,1472.1 1627.2,1472.1 1629.5,1472.1 1631.9,1472.1 1634.2,1472.1 1636.6,1472.1 1638.9,1472.1 1641.2,1472.1 1643.5,1472.1 1645.8,1472.1 1648.0,1472.1 1650.2,1472.1 1652.3,1472.0 1654.4,1472.0 1656.5,1472.0 1658.5,1472.0 1660.4,1472.0 1662.3,1472.0 1664.1,1472.0 1665.9,1472.0 1667.6,1472.0 1669.2,1472.0 1670.7,1472.0 1672.2,1472.0 1673.5,1472.0 1674.8,1472.0 1675.9,1472.0 1677.0,1472.0" fill="none" stroke="#ff0000" stroke-width="6" stroke-linejoin="round" stroke-linecap="round"/>
<path d="M1480.0,1471.9H1677.0" stroke="#ff0000" stroke-width="8.5" fill="none"/>
<circle cx="256.5" cy="1189.5" r="17.5" fill="#ff0000"/>
<circle cx="376.7" cy="1164.3" r="17.5" fill="#ff0000"/>
<circle cx="528.2" cy="1124.0" r="17.5" fill="#ff0000"/>
<circle cx="713.8" cy="1009.7" r="17.5" fill="#ff0000"/>
<circle cx="1166.3" cy="906.5" r="17.5" fill="#ff0000"/>
<circle cx="1371.0" cy="1405.0" r="17.5" fill="#ff0000"/>
<circle cx="1473.5" cy="1466.0" r="17.5" fill="#ff0000"/>
<circle cx="1677.0" cy="1472.0" r="17.5" fill="#ff0000"/>
<path d="M259.6,1229.0L261.5,1228.4 263.4,1227.8 265.3,1227.1 267.2,1226.5 269.2,1225.9 271.1,1225.3 273.0,1224.7 274.9,1224.1 276.8,1223.5 278.7,1222.9 280.6,1222.3 282.5,1221.7 284.4,1221.2 286.4,1220.6 288.3,1220.0 290.2,1219.4 292.1,1218.8 294.0,1218.3 295.9,1217.7 297.9,1217.1 299.8,1216.6 301.7,1216.0 303.6,1215.4 305.6,1214.9 307.5,1214.3 309.4,1213.8 311.3,1213.2 313.3,1212.7 315.2,1212.1 317.1,1211.6 319.0,1211.0 321.0,1210.5 322.9,1209.9 324.8,1209.4 326.7,1208.9 328.7,1208.3 330.6,1207.8 332.5,1207.3 334.5,1206.8 336.4,1206.2 338.3,1205.7 340.3,1205.2 342.2,1204.7 344.1,1204.2 346.1,1203.6 348.0,1203.1 349.9,1202.6 351.9,1202.1 353.8,1201.6 355.8,1201.1 357.7,1200.6 359.6,1200.1 361.6,1199.6 363.5,1199.1 365.5,1198.6 367.4,1198.1 369.3,1197.6 371.3,1197.1 373.2,1196.6 375.2,1196.2 377.1,1195.7 379.0,1195.2 381.0,1194.7 382.9,1194.2 384.9,1193.7 386.8,1193.3 388.8,1192.8 390.7,1192.3 392.7,1191.8 394.6,1191.4 396.6,1190.9 398.5,1190.4 400.4,1190.0 402.4,1189.5 404.3,1189.0 406.3,1188.6 408.2,1188.1 410.2,1187.7 412.1,1187.2 414.1,1186.7 416.0,1186.3 418.0,1185.8 419.9,1185.4 421.9,1184.9 423.8,1184.5 425.8,1184.0 427.7,1183.6 429.7,1183.1 431.6,1182.7 433.6,1182.2 435.5,1181.8 437.5,1181.3 439.4,1180.9 441.4,1180.5 443.4,1180.0 445.3,1179.6 447.3,1179.1 449.2,1178.7 451.2,1178.3 453.1,1177.8 455.1,1177.4 457.0,1176.9 459.0,1176.5 460.9,1176.1 462.9,1175.6 464.9,1175.2 466.8,1174.8 468.8,1174.4 470.7,1173.9 472.7,1173.5 474.6,1173.1 476.6,1172.6 478.5,1172.2 480.5,1171.8 482.5,1171.4 484.4,1170.9 486.4,1170.5 488.3,1170.1 490.3,1169.7 492.2,1169.2 494.2,1168.8 496.2,1168.4 498.1,1168.0 500.1,1167.5 502.0,1167.1 504.0,1166.7 505.9,1166.3 507.9,1165.9 509.9,1165.4 511.8,1165.0 513.8,1164.6 515.7,1164.2 517.7,1163.8 519.6,1163.3 521.6,1162.9 523.6,1162.5 525.5,1162.1 527.5,1161.7 529.4,1161.2 531.4,1160.8 533.3,1160.4 535.3,1160.0 537.3,1159.6 539.2,1159.1 541.2,1158.7 543.1,1158.3 545.1,1157.9 547.1,1157.5 549.0,1157.1 551.0,1156.6 552.9,1156.2 554.9,1155.8 556.8,1155.4 558.8,1155.0 560.8,1154.5 562.7,1154.1 564.7,1153.7 566.6,1153.3 568.6,1152.8 570.5,1152.4 572.5,1152.0 574.5,1151.6 576.4,1151.2 578.4,1150.7 580.3,1150.3 582.3,1149.9 584.2,1149.5 586.2,1149.0 588.2,1148.6 590.1,1148.2 592.1,1147.8 594.0,1147.3 596.0,1146.9 597.9,1146.5 599.9,1146.0 601.9,1145.6 603.8,1145.2 605.8,1144.8 607.7,1144.3 609.7,1143.9 611.6,1143.5 613.6,1143.0 615.5,1142.6 617.5,1142.2 619.4,1141.7 621.4,1141.3 623.4,1140.8 625.3,1140.4 627.3,1140.0 629.2,1139.5 631.2,1139.1 633.1,1138.6 635.1,1138.2 637.0,1137.7 639.0,1137.3 640.9,1136.8 642.9,1136.4 644.8,1135.9 646.8,1135.5 648.7,1135.0 650.7,1134.6 652.6,1134.1 654.6,1133.7 656.5,1133.2 658.5,1132.8 660.4,1132.3 662.4,1131.9 664.3,1131.4 666.3,1130.9 668.2,1130.5 670.2,1130.0 672.1,1129.5 674.1,1129.1 676.0,1128.6 678.0,1128.1 679.9,1127.6 681.8,1127.2 683.8,1126.7 685.7,1126.2 687.7,1125.7 689.6,1125.3 691.6,1124.8 693.5,1124.3 695.5,1123.8 697.4,1123.3 699.3,1122.8 701.3,1122.3 703.2,1121.9 705.2,1121.4 707.1,1120.9 709.0,1120.4 711.0,1119.9 712.9,1119.4 714.9,1118.9 716.8,1118.4 718.7,1117.9 720.7,1117.3 722.6,1116.8 724.5,1116.3 726.5,1115.8 728.4,1115.3 730.3,1114.8 732.3,1114.3 734.2,1113.7 736.1,1113.2 738.1,1112.7 740.0,1112.2 741.9,1111.6 743.9,1111.1 745.8,1110.6 747.7,1110.0 749.7,1109.5 751.6,1108.9 753.5,1108.4 755.4,1107.9 757.4,1107.3 759.3,1106.8 761.2,1106.2 763.1,1105.6 765.1,1105.1 767.0,1104.5 768.9,1104.0 770.8,1103.4 772.7,1102.8 774.7,1102.3 776.6,1101.7 778.5,1101.1 780.4,1100.5 782.3,1100.0 784.2,1099.4 786.2,1098.8 788.1,1098.2 790.0,1097.6 791.9,1097.0 793.8,1096.4 795.7,1095.8 797.6,1095.2 799.6,1094.6 801.5,1094.0 803.4,1093.4 805.3,1092.8 807.2,1092.2 809.1,1091.6 811.0,1091.0 812.9,1090.4 814.8,1089.8 816.7,1089.1 818.6,1088.5 820.5,1087.9 822.4,1087.3 824.3,1086.6 826.2,1086.0 828.1,1085.4 830.0,1084.8 831.9,1084.1 833.8,1083.5 835.7,1082.9 837.6,1082.2 839.5,1081.6 841.4,1080.9 843.3,1080.3 845.2,1079.6 847.1,1079.0 849.0,1078.4 850.9,1077.7 852.8,1077.1 854.7,1076.4 856.6,1075.8 858.5,1075.1 860.4,1074.4 862.2,1073.8 864.1,1073.1 866.0,1072.5 867.9,1071.8 869.8,1071.2 871.7,1070.5 873.6,1069.8 875.5,1069.2 877.4,1068.5 879.3,1067.8 881.1,1067.2 883.0,1066.5 884.9,1065.8 886.8,1065.2 888.7,1064.5 890.6,1063.8 892.5,1063.2 894.4,1062.5 896.2,1061.8 898.1,1061.2 900.0,1060.5 901.9,1059.8 903.8,1059.1 905.7,1058.4 907.6,1057.8 909.4,1057.1 911.3,1056.4 913.2,1055.7 915.1,1055.0 917.0,1054.3 918.8,1053.6 920.7,1052.9 922.6,1052.2 924.5,1051.5 926.3,1050.8 928.2,1050.1 930.1,1049.4 931.9,1048.7 933.8,1048.0 935.7,1047.2 937.5,1046.5 939.4,1045.8 941.3,1045.0 943.1,1044.3 945.0,1043.6 946.9,1042.8 948.7,1042.1 950.6,1041.3 952.4,1040.6 954.3,1039.8 956.1,1039.0 958.0,1038.2 959.8,1037.5 961.6,1036.7 963.5,1035.9 965.3,1035.1 967.2,1034.3 969.0,1033.5 970.8,1032.7 972.6,1031.8 974.5,1031.0 976.3,1030.2 978.1,1029.3 979.9,1028.5 981.7,1027.6 983.5,1026.8 985.3,1025.9 987.1,1025.0 988.9,1024.1 990.7,1023.3 992.5,1022.4 994.3,1021.5 996.1,1020.5 997.9,1019.6 999.6,1018.7 1001.4,1017.8 1003.2,1016.8 1004.9,1015.9 1006.7,1014.9 1008.5,1013.9 1010.2,1013.0 1011.9,1012.0 1013.7,1011.0 1015.4,1010.0 1017.1,1009.0 1018.9,1008.0 1020.6,1006.9 1022.3,1005.9 1024.0,1004.8 1025.7,1003.8 1027.4,1002.7 1029.1,1001.6 1030.8,1000.5 1032.4,999.4 1034.1,998.3 1035.8,997.2 1037.4,996.1 1039.1,994.9 1040.7,993.8 1042.3,992.6 1043.9,991.4 1045.6,990.3 1047.2,989.1 1048.8,987.9 1050.4,986.6 1051.9,985.4 1053.5,984.2 1055.1,982.9 1056.7,981.7 1058.2,980.4 1059.8,979.2 1061.3,977.9 1062.8,976.6 1064.3,975.3 1065.9,974.0 1067.4,972.7 1068.9,971.3 1070.4,970.0 1071.9,968.7 1073.3,967.3 1074.8,965.9 1076.3,964.6 1077.7,963.2 1079.2,961.8 1080.6,960.4 1082.0,959.0 1083.5,957.6 1084.9,956.2 1086.3,954.8 1087.7,953.4 1089.1,951.9 1090.5,950.5 1091.8,949.0 1093.2,947.6 1094.6,946.1 1095.9,944.6 1097.3,943.1 1098.6,941.7 1100.0,940.2 1101.3,938.7 1102.6,937.2 1103.9,935.6 1105.2,934.1 1106.5,932.6 1107.8,931.1 1109.1,929.5 1110.4,928.0 1111.7,926.5 1112.9,924.9 1114.2,923.3 1115.4,921.8 1116.7,920.2 1117.9,918.6 1119.1,917.1 1120.4,915.5 1121.6,913.9 1122.8,912.3 1124.0,910.7 1125.2,909.1 1126.4,907.5 1127.6,905.9 1128.7,904.2 1129.9,902.6 1131.1,901.0 1132.2,899.3 1133.4,897.7 1134.5,896.1 1135.7,894.4 1136.8,892.8 1137.9,891.1 1139.1,889.5 1140.2,887.8 1141.3,886.1 1142.4,884.5 1143.5,882.8 1144.6,881.1 1145.7,879.4 1146.8,877.8 1147.8,876.1 1148.9,874.4 1150.0,872.7 1151.0,871.0 1152.1,869.3 1153.1,867.6 1154.2,865.9 1155.2,864.2 1156.3,862.4 1157.3,860.7 1158.3,859.0 1159.3,857.3 1160.3,855.5 1161.3,853.8 1162.3,852.1 1163.3,850.3 1164.3,848.6 1165.3,846.9 1166.3,845.1 1167.3,843.4 1168.3,841.6 1169.2,839.9 1170.2,838.1 1171.2,836.4 1172.1,834.6 1173.1,832.8 1174.0,831.1 1175.0,829.3 1175.9,827.5 1176.8,825.8 1177.8,824.0 1178.7,822.2 1179.6,820.5 1180.5,818.7 1181.4,816.9 1182.4,815.1 1183.3,813.3 1184.2,811.5 1185.1,809.7 1186.0,808.0 1186.8,806.2 1187.7,804.4 1188.6,802.6 1189.5,800.8 1190.4,799.0 1191.3,797.2 1192.1,795.4 1193.0,793.6 1193.9,791.8 1194.7,789.9 1195.6,788.1 1196.4,786.3 1197.3,784.5 1198.1,782.7 1199.0,780.9 1199.8,779.1 1200.7,777.3 1201.5,775.4 1202.3,773.6 1203.2,771.8 1204.0,770.0 1204.8,768.2 1205.7,766.3 1206.5,764.5 1207.3,762.7 1208.2,760.9 1209.0,759.0 1209.8,757.2 1210.6,755.4 1211.4,753.6 1212.2,751.7 1213.1,749.9 1213.9,748.1 1214.7,746.2 1215.5,744.4 1216.3,742.6 1217.1,740.7 1217.9,738.9 1218.7,737.1 1219.5,735.2 1220.3,733.4 1221.1,731.6 1221.9,729.7 1222.7,727.9 1223.5,726.1 1224.3,724.2 1225.1,722.4 1225.9,720.6 1226.7,718.7 1227.5,716.9 1228.3,715.1 1229.1,713.2 1229.9,711.4 1230.8,709.6 1231.6,707.7 1232.4,705.9 1233.2,704.1 1234.0,702.2 1234.8,700.4 1235.6,698.6 1236.4,696.7 1237.2,694.9 1238.0,693.1 1238.8,691.2 1239.6,689.4 1240.4,687.6 1241.2,685.7 1242.1,683.9 1242.9,682.1 1243.7,680.2 1244.5,678.4 1245.3,676.6 1246.1,674.8 1247.0,672.9 1247.8,671.1 1248.6,669.3 1249.5,667.5 1250.3,665.7 1251.1,663.8 1252.0,662.0 1252.8,660.2 1253.6,658.4 1254.5,656.6 1255.3,654.8 1256.2,652.9 1257.1,651.1 1257.9,649.3 1258.8,647.5 1259.6,645.7 1260.5,643.9 1261.4,642.1 1262.3,640.3 1263.2,638.5 1264.1,636.7 1265.0,634.9 1265.9,633.1 1266.8,631.4 1267.7,629.6 1268.6,627.8 1269.5,626.0 1270.4,624.2 1271.4,622.5 1272.3,620.7 1273.2,618.9 1274.2,617.2 1275.1,615.4 1276.1,613.6 1277.1,611.9 1278.0,610.1 1279.0,608.4 1280.0,606.7 1281.0,604.9 1282.0,603.2 1283.0,601.4 1284.0,599.7 1285.0,598.0 1286.0,596.3 1287.1,594.6 1288.1,592.8 1289.2,591.1 1290.2,589.4 1291.3,587.7 1292.3,586.0 1293.4,584.4 1294.5,582.7 1295.6,581.0 1296.7,579.3 1297.8,577.7 1298.9,576.0 1300.0,574.3 1301.2,572.7 1302.3,571.0 1303.5,569.4 1304.6,567.8 1305.8,566.1 1307.0,564.5 1308.1,562.9 1309.3,561.3 1310.5,559.7 1311.7,558.1 1312.9,556.5 1314.2,554.9 1315.4,553.3 1316.6,551.8 1317.9,550.2 1319.1,548.6 1320.4,547.1 1321.7,545.5 1323.0,544.0 1324.3,542.5 1325.7,541.1 1327.1,539.6 1328.5,538.2 1330.0,536.8 1331.5,535.5 1333.0,534.3 1334.6,533.1 1336.3,531.9 1338.0,530.9 1339.8,530.0 1341.6,529.2 1343.5,528.6 1345.5,528.1 1347.4,527.7 1349.4,527.5 1351.4,527.5 1353.4,527.6 1355.4,527.8 1357.4,528.1 1359.4,528.6 1361.3,529.1 1363.2,529.8 1365.0,530.6 1366.8,531.4 1368.6,532.4 1370.3,533.5 1371.9,534.6 1373.5,535.8 1375.1,537.1 1376.5,538.4 1378.0,539.8 1379.4,541.3 1380.7,542.8 1382.0,544.3 1383.2,545.9 1384.4,547.5 1385.5,549.2 1386.6,550.8 1387.7,552.5 1388.7,554.2 1389.7,556.0 1390.7,557.7 1391.6,559.5 1392.5,561.3 1393.4,563.1 1394.3,564.9 1395.1,566.7 1395.9,568.5 1396.8,570.4 1397.5,572.2 1398.3,574.0 1399.1,575.9 1399.8,577.8 1400.6,579.6 1401.3,581.5 1402.0,583.4 1402.7,585.2 1403.4,587.1 1404.1,589.0 1404.8,590.9 1405.5,592.8 1406.1,594.6 1406.8,596.5 1407.4,598.4 1408.1,600.3 1408.7,602.2 1409.3,604.1 1410.0,606.0 1410.6,607.9 1411.2,609.8 1411.8,611.7 1412.4,613.7 1413.0,615.6 1413.5,617.5 1414.1,619.4 1414.7,621.3 1415.2,623.3 1415.8,625.2 1416.3,627.1 1416.8,629.0 1417.4,631.0 1417.9,632.9 1418.4,634.8 1418.9,636.8 1419.4,638.7 1419.9,640.6 1420.4,642.6 1420.9,644.5 1421.4,646.5 1421.9,648.4 1422.4,650.4 1422.8,652.3 1423.3,654.3 1423.8,656.2 1424.2,658.2 1424.7,660.1 1425.1,662.1 1425.6,664.0 1426.0,666.0 1426.5,667.9 1426.9,669.9 1427.4,671.8 1427.8,673.8 1428.2,675.7 1428.7,677.7 1429.1,679.6 1429.5,681.6 1430.0,683.5 1430.4,685.5 1430.8,687.5 1431.2,689.4 1431.6,691.4 1432.1,693.3 1432.5,695.3 1432.9,697.2 1433.3,699.2 1433.7,701.2 1434.1,703.1 1434.6,705.1 1435.0,707.0 1435.4,709.0 1435.8,711.0 1436.2,712.9 1436.6,714.9 1437.0,716.8 1437.4,718.8 1437.8,720.8 1438.2,722.7 1438.6,724.7 1439.0,726.7 1439.4,728.6 1439.8,730.6 1440.2,732.5 1440.6,734.5 1441.0,736.5 1441.4,738.4 1441.7,740.4 1442.1,742.4 1442.5,744.3 1442.9,746.3 1443.3,748.3 1443.7,750.2 1444.0,752.2 1444.4,754.2 1444.8,756.1 1445.2,758.1 1445.6,760.1 1445.9,762.0 1446.3,764.0 1446.7,766.0 1447.1,767.9 1447.4,769.9 1447.8,771.9 1448.2,773.8 1448.5,775.8 1448.9,777.8 1449.3,779.7 1449.6,781.7 1450.0,783.7 1450.4,785.6 1450.7,787.6 1451.1,789.6 1451.4,791.6 1451.8,793.5 1452.2,795.5 1452.5,797.5 1452.9,799.4 1453.2,801.4 1453.6,803.4 1453.9,805.3 1454.3,807.3 1454.6,809.3 1455.0,811.3 1455.3,813.2 1455.7,815.2 1456.0,817.2 1456.4,819.1 1456.7,821.1 1457.1,823.1 1457.4,825.1 1457.7,827.0 1458.1,829.0 1458.4,831.0 1458.8,833.0 1459.1,834.9 1459.5,836.9 1459.8,838.9 1460.1,840.8 1460.5,842.8 1460.8,844.8 1461.1,846.8 1461.5,848.7 1461.8,850.7 1462.1,852.7 1462.5,854.7 1462.8,856.6 1463.1,858.6 1463.5,860.6 1463.8,862.6 1464.1,864.5 1464.4,866.5 1464.8,868.5 1465.1,870.5 1465.4,872.4 1465.7,874.4 1466.1,876.4 1466.4,878.4 1466.7,880.3 1467.0,882.3 1467.4,884.3 1467.7,886.3 1468.0,888.3 1468.3,890.2 1468.6,892.2 1469.0,894.2 1469.3,896.2 1469.6,898.1 1469.9,900.1 1470.2,902.1 1470.5,904.1 1470.9,906.0 1471.2,908.0 1471.5,910.0 1471.8,912.0 1472.1,914.0 1472.4,915.9 1472.7,917.9 1473.1,919.9 1473.4,921.9 1473.7,923.8 1474.0,925.8 1474.3,927.8 1474.6,929.8 1474.9,931.8 1475.2,933.7 1475.5,935.7 1475.8,937.7 1476.1,939.7 1476.5,941.7 1476.8,943.6 1477.1,945.6 1477.4,947.6 1477.7,949.6 1478.0,951.5 1478.3,953.5 1478.6,955.5 1478.9,957.5 1479.2,959.5 1479.5,961.4 1479.8,963.4 1480.1,965.4 1480.4,967.4 1480.7,969.4 1481.0,971.3 1481.3,973.3 1481.6,975.3 1481.9,977.3 1482.2,979.3 1482.5,981.2 1482.8,983.2 1483.1,985.2 1483.4,987.2 1483.7,989.2 1484.0,991.1 1484.3,993.1 1484.6,995.1 1484.9,997.1 1485.2,999.1 1485.5,1001.0 1485.8,1003.0 1486.1,1005.0 1486.4,1007.0 1486.7,1009.0 1487.0,1010.9 1487.3,1012.9 1487.6,1014.9 1487.9,1016.9 1488.2,1018.9 1488.5,1020.8 1488.8,1022.8 1489.1,1024.8 1489.3,1026.8 1489.6,1028.8 1489.9,1030.7 1490.2,1032.7 1490.5,1034.7 1490.8,1036.7 1491.1,1038.7 1491.4,1040.6 1491.7,1042.6 1492.0,1044.6 1492.3,1046.6 1492.6,1048.6 1492.9,1050.5 1493.2,1052.5 1493.5,1054.5 1493.8,1056.5 1494.1,1058.5 1494.4,1060.4 1494.7,1062.4 1495.0,1064.4 1495.2,1066.4 1495.5,1068.4 1495.8,1070.3 1496.1,1072.3 1496.4,1074.3 1496.7,1076.3 1497.0,1078.3 1497.3,1080.3 1497.6,1082.2 1497.9,1084.2 1498.2,1086.2 1498.5,1088.2 1498.8,1090.2 1499.1,1092.1 1499.4,1094.1 1499.7,1096.1 1500.0,1098.1 1500.3,1100.1 1500.6,1102.0 1500.9,1104.0 1501.2,1106.0 1501.5,1108.0 1501.8,1110.0 1502.1,1111.9 1502.4,1113.9 1502.7,1115.9 1503.0,1117.9 1503.3,1119.9 1503.6,1121.8 1503.9,1123.8 1504.2,1125.8 1504.5,1127.8 1504.8,1129.8 1505.1,1131.7 1505.4,1133.7 1505.7,1135.7 1506.0,1137.7 1506.3,1139.6 1506.6,1141.6 1506.9,1143.6 1507.2,1145.6 1507.5,1147.6 1507.8,1149.5 1508.1,1151.5 1508.4,1153.5 1508.7,1155.5 1509.0,1157.5 1509.3,1159.4 1509.6,1161.4 1509.9,1163.4 1510.2,1165.4 1510.5,1167.4 1510.8,1169.3 1511.1,1171.3 1511.5,1173.3 1511.8,1175.3 1512.1,1177.2 1512.4,1179.2 1512.7,1181.2 1513.0,1183.2 1513.3,1185.2 1513.6,1187.1 1513.9,1189.1 1514.3,1191.1 1514.6,1193.1 1514.9,1195.0 1515.2,1197.0 1515.5,1199.0 1515.8,1201.0 1516.1,1203.0 1516.5,1204.9 1516.8,1206.9 1517.1,1208.9 1517.4,1210.9 1517.7,1212.8 1518.1,1214.8 1518.4,1216.8 1518.7,1218.8 1519.0,1220.7 1519.3,1222.7 1519.7,1224.7 1520.0,1226.7 1520.3,1228.6 1520.6,1230.6 1521.0,1232.6 1521.3,1234.6 1521.6,1236.6 1522.0,1238.5 1522.3,1240.5 1522.6,1242.5 1523.0,1244.4 1523.3,1246.4 1523.6,1248.4 1524.0,1250.4 1524.3,1252.3 1524.6,1254.3 1525.0,1256.3 1525.3,1258.3 1525.7,1260.2 1526.0,1262.2 1526.3,1264.2 1526.7,1266.2 1527.0,1268.1 1527.4,1270.1 1527.7,1272.1 1528.1,1274.0 1528.4,1276.0 1528.8,1278.0 1529.1,1280.0 1529.5,1281.9 1529.8,1283.9 1530.2,1285.9 1530.5,1287.8 1530.9,1289.8 1531.2,1291.8 1531.6,1293.8 1531.9,1295.7 1532.3,1297.7 1532.7,1299.7 1533.0,1301.6 1533.4,1303.6 1533.8,1305.6 1534.1,1307.5 1534.5,1309.5 1534.9,1311.5 1535.2,1313.4 1535.6,1315.4 1536.0,1317.4 1536.3,1319.3 1536.7,1321.3 1537.1,1323.3 1537.5,1325.2 1537.9,1327.2 1538.2,1329.2 1538.6,1331.1 1539.0,1333.1 1539.4,1335.1 1539.8,1337.0 1540.2,1339.0 1540.5,1341.0 1540.9,1342.9 1541.3,1344.9 1541.7,1346.9 1542.1,1348.8 1542.5,1350.8 1542.9,1352.8 1543.3,1354.7 1543.7,1356.7 1544.1,1358.6 1544.5,1360.6 1544.9,1362.6 1545.3,1364.5 1545.7,1366.5 1546.1,1368.4 1546.5,1370.4 1546.9,1372.4 1547.4,1374.3 1547.8,1376.3 1548.2,1378.2 1548.6,1380.2 1549.0,1382.2 1549.4,1384.1 1549.9,1386.1 1550.3,1388.0 1550.7,1390.0 1551.1,1391.9 1551.6,1393.9 1552.0,1395.9 1552.4,1397.8 1552.9,1399.8 1553.3,1401.7 1553.7,1403.7 1554.2,1405.6 1554.6,1407.6 1555.1,1409.5 1555.6,1411.5 1556.1,1413.4 1556.6,1415.3 1557.1,1417.3 1557.7,1419.2 1558.3,1421.1 1558.9,1423.0 1559.5,1424.9 1560.2,1426.8 1560.9,1428.7 1561.6,1430.5 1562.4,1432.4 1563.2,1434.2 1564.0,1436.0 1564.9,1437.8 1565.9,1439.6 1566.9,1441.3 1567.9,1443.0 1569.0,1444.7 1570.2,1446.3 1571.4,1447.9 1572.6,1449.5 1573.9,1451.0 1575.3,1452.5 1576.7,1453.9 1578.1,1455.3 1579.6,1456.6 1581.2,1457.9 1582.8,1459.1 1583.9,1459.5 1585.3,1460.1 1586.9,1460.8 1588.8,1461.6 1590.8,1462.5 1592.9,1463.4 1595.1,1464.2 1597.4,1465.1 1599.7,1465.9 1602.1,1466.6 1604.4,1467.2 1606.2,1467.6 1608.0,1468.0 1609.8,1468.3 1611.6,1468.7 1613.5,1468.9 1615.4,1469.2 1617.4,1469.5 1619.4,1469.7 1621.4,1470.0 1623.6,1470.2 1625.8,1470.4 1628.1,1470.6 1630.6,1470.8 1633.1,1471.0 1634.8,1471.1 1636.4,1471.3 1637.9,1471.4 1639.4,1471.5 1640.8,1471.6 1642.2,1471.7 1643.7,1471.8 1645.2,1471.9 1646.7,1472.0 1648.3,1472.1 1650.0,1472.2 1651.9,1472.3 1653.8,1472.4 1655.9,1472.5 1658.2,1472.6 1660.8,1472.6 1663.5,1472.7 1666.4,1472.8 1669.7,1472.9 1673.2,1472.9 1677.0,1473.0 1678.4,1473.0 1679.8,1473.0 1681.3,1473.1 1682.8,1473.1 1684.4,1473.1 1686.0,1473.1 1687.6,1473.2 1689.3,1473.2 1691.0,1473.2 1692.7,1473.2 1694.5,1473.3 1696.3,1473.3 1698.2,1473.3 1700.0,1473.3 1701.9,1473.3 1703.9,1473.4 1705.8,1473.4 1707.8,1473.4 1709.8,1473.4 1711.8,1473.4 1713.9,1473.5 1715.9,1473.5 1718.0,1473.5 1720.1,1473.5 1722.3,1473.5 1724.4,1473.5 1726.6,1473.6 1728.7,1473.6 1730.9,1473.6 1733.1,1473.6 1735.3,1473.6 1737.5,1473.6 1739.7,1473.7 1741.9,1473.7 1744.2,1473.7 1746.4,1473.7 1748.6,1473.7 1750.9,1473.7 1753.1,1473.8 1755.3,1473.8 1757.6,1473.8 1759.8,1473.8 1762.0,1473.8 1764.2,1473.8 1766.4,1473.8 1768.6,1473.8 1770.8,1473.9 1773.0,1473.9 1775.2,1473.9 1777.4,1473.9 1779.5,1473.9 1781.7,1473.9 1783.8,1473.9 1785.9,1473.9 1788.0,1473.9 1790.0,1474.0 1792.1,1474.0 1794.1,1474.0 1796.1,1474.0 1798.1,1474.0 1800.0,1474.0 1802.1,1474.0 1804.3,1474.0 1806.4,1474.0 1808.6,1474.0 1810.9,1474.0 1813.1,1474.0 1815.4,1474.0 1817.7,1474.1 1820.0,1474.1 1822.3,1474.1 1824.6,1474.1 1826.9,1474.1 1829.3,1474.1 1831.6,1474.1 1834.0,1474.1 1836.3,1474.1 1838.7,1474.1 1841.0,1474.1 1843.4,1474.1 1845.7,1474.1 1848.1,1474.1 1850.4,1474.1 1852.7,1474.1 1855.1,1474.1 1857.4,1474.1 1859.7,1474.1 1861.9,1474.1 1864.2,1474.1 1866.4,1474.1 1868.6,1474.1 1870.8,1474.1 1873.0,1474.1 1875.1,1474.0 1877.3,1474.0 1879.3,1474.0 1881.4,1474.0 1883.4,1474.0 1885.4,1474.0 1887.3,1474.0 1889.2,1474.0 1891.1,1474.0 1892.9,1474.0 1894.7,1474.0 1896.4,1474.0 1898.1,1474.0 1899.8,1474.0 1901.3,1474.0 1902.9,1474.0 1904.4,1474.0 1905.8,1474.0 1907.1,1474.0 1908.4,1474.0 1909.7,1474.0 1910.8,1474.0 1912.0,1474.0 1913.0,1474.0" fill="none" stroke="#0000ff" stroke-width="6" stroke-linejoin="round" stroke-linecap="round"/>
<path d="M1640.0,1472.0H1913.0" stroke="#0000ff" stroke-width="8.5" fill="none"/>
<polygon points="259.6,1205.7 279.6,1240.7 239.6,1240.7" fill="#0000ff"/>
<polygon points="351.0,1180.0 371.0,1215.0 331.0,1215.0" fill="#0000ff"/>
<polygon points="820.0,1065.9 840.0,1100.9 800.0,1100.9" fill="#0000ff"/>
<polygon points="1105.3,918.8 1125.3,953.8 1085.3,953.8" fill="#0000ff"/>
<polygon points="1376.5,514.7 1396.5,549.7 1356.5,549.7" fill="#0000ff"/>
<polygon points="1562.3,1408.5 1582.3,1443.5 1542.3,1443.5" fill="#0000ff"/>
<polygon points="1677.0,1450.7 1697.0,1485.7 1657.0,1485.7" fill="#0000ff"/>
<polygon points="1913.0,1451.0 1933.0,1486.0 1893.0,1486.0" fill="#0000ff"/>
<path d="M258.0,1304.6L259.7,1303.5 261.4,1302.4 263.0,1301.3 264.7,1300.3 266.4,1299.2 268.1,1298.1 269.8,1297.0 271.4,1295.9 273.1,1294.8 274.8,1293.7 276.5,1292.6 278.1,1291.5 279.8,1290.4 281.5,1289.3 283.1,1288.2 284.8,1287.1 286.5,1285.9 288.1,1284.8 289.8,1283.7 291.4,1282.6 293.1,1281.5 294.8,1280.3 296.4,1279.2 298.1,1278.1 299.7,1277.0 301.4,1275.8 303.0,1274.7 304.7,1273.6 306.3,1272.4 308.0,1271.3 309.6,1270.2 311.3,1269.0 312.9,1267.9 314.6,1266.8 316.2,1265.6 317.9,1264.5 319.5,1263.3 321.2,1262.2 322.8,1261.1 324.5,1259.9 326.1,1258.8 327.7,1257.7 329.4,1256.5 331.0,1255.4 332.7,1254.2 334.3,1253.1 336.0,1252.0 337.6,1250.8 339.3,1249.7 340.9,1248.6 342.6,1247.4 344.2,1246.3 345.9,1245.2 347.5,1244.0 349.2,1242.9 350.8,1241.8 352.5,1240.7 354.2,1239.5 355.8,1238.4 357.5,1237.3 359.1,1236.2 360.8,1235.0 362.4,1233.9 364.1,1232.8 365.8,1231.7 367.4,1230.6 369.1,1229.5 370.8,1228.4 372.4,1227.2 374.1,1226.1 375.8,1225.0 377.4,1223.9 379.1,1222.8 380.8,1221.7 382.5,1220.6 384.1,1219.6 385.8,1218.5 387.5,1217.4 389.2,1216.3 390.9,1215.2 392.6,1214.1 394.3,1213.1 396.0,1212.0 397.6,1210.9 399.3,1209.9 401.0,1208.8 402.7,1207.8 404.4,1206.7 406.1,1205.7 407.9,1204.6 409.6,1203.6 411.3,1202.5 413.0,1201.5 414.7,1200.5 416.4,1199.4 418.1,1198.4 419.9,1197.4 421.6,1196.4 423.3,1195.4 425.1,1194.4 426.8,1193.4 428.5,1192.4 430.3,1191.4 432.0,1190.4 433.8,1189.4 435.5,1188.5 437.3,1187.5 439.0,1186.5 440.8,1185.6 442.5,1184.6 444.3,1183.7 446.1,1182.7 447.8,1181.8 449.6,1180.9 451.4,1179.9 453.2,1179.0 455.0,1178.1 456.7,1177.2 458.5,1176.3 460.3,1175.4 462.1,1174.5 463.9,1173.7 465.7,1172.8 467.5,1171.9 469.3,1171.1 471.2,1170.2 473.0,1169.4 474.8,1168.6 476.6,1167.7 478.4,1166.9 480.3,1166.1 482.1,1165.3 484.0,1164.5 485.8,1163.8 487.6,1163.0 489.5,1162.2 491.3,1161.5 493.2,1160.7 495.1,1160.0 496.9,1159.2 498.8,1158.5 500.7,1157.8 502.5,1157.1 504.4,1156.4 506.3,1155.7 508.2,1155.1 510.1,1154.4 512.0,1153.7 513.9,1153.1 515.8,1152.5 517.7,1151.9 519.6,1151.2 521.5,1150.6 523.4,1150.1 525.3,1149.5 527.2,1148.9 529.2,1148.4 531.1,1147.8 533.0,1147.3 535.0,1146.8 536.9,1146.3 538.8,1145.8 540.8,1145.3 542.7,1144.8 544.7,1144.4 546.6,1143.9 548.6,1143.5 550.5,1143.1 552.5,1142.7 554.5,1142.3 556.4,1141.9 558.4,1141.5 560.4,1141.2 562.3,1140.8 564.3,1140.5 566.3,1140.2 568.3,1139.9 570.3,1139.6 572.2,1139.4 574.2,1139.1 576.2,1138.9 578.2,1138.6 580.2,1138.4 582.2,1138.2 584.2,1138.0 586.2,1137.9 588.2,1137.7 590.2,1137.6 592.2,1137.4 594.2,1137.3 596.2,1137.2 598.2,1137.1 600.2,1137.0 602.2,1136.9 604.2,1136.9 606.2,1136.8 608.2,1136.8 610.2,1136.7 612.2,1136.7 614.2,1136.7 616.2,1136.7 618.2,1136.6 620.2,1136.6 622.2,1136.6 624.2,1136.7 626.2,1136.7 628.2,1136.7 630.2,1136.7 632.2,1136.8 634.2,1136.8 636.2,1136.8 638.2,1136.9 640.2,1136.9 642.2,1137.0 644.2,1137.0 646.2,1137.1 648.2,1137.2 650.2,1137.2 652.2,1137.3 654.2,1137.4 656.2,1137.4 658.2,1137.5 660.2,1137.6 662.2,1137.6 664.2,1137.7 666.2,1137.8 668.2,1137.8 670.2,1137.9 672.2,1138.0 674.2,1138.0 676.2,1138.1 678.2,1138.2 680.2,1138.2 682.2,1138.3 684.2,1138.3 686.2,1138.4 688.2,1138.4 690.2,1138.5 692.2,1138.5 694.2,1138.5 696.2,1138.5 698.2,1138.6 700.2,1138.6 702.2,1138.6 704.2,1138.6 706.2,1138.6 708.2,1138.6 710.2,1138.6 712.2,1138.5 714.2,1138.5 716.2,1138.5 718.2,1138.4 720.2,1138.3 722.2,1138.3 724.2,1138.2 726.2,1138.1 728.2,1138.0 730.2,1137.9 732.2,1137.8 734.2,1137.6 736.2,1137.5 738.2,1137.3 740.2,1137.2 742.2,1137.0 744.2,1136.8 746.2,1136.6 748.2,1136.3 750.2,1136.1 752.2,1135.9 754.1,1135.6 756.1,1135.3 758.1,1135.0 760.1,1134.7 762.1,1134.4 764.0,1134.0 766.0,1133.7 768.0,1133.3 769.9,1132.9 771.9,1132.5 773.8,1132.1 775.8,1131.6 777.7,1131.2 779.7,1130.7 781.6,1130.2 783.6,1129.7 785.5,1129.2 787.4,1128.6 789.4,1128.1 791.3,1127.5 793.2,1126.9 795.1,1126.3 797.0,1125.7 798.9,1125.1 800.8,1124.4 802.7,1123.8 804.6,1123.1 806.4,1122.4 808.3,1121.7 810.2,1121.0 812.0,1120.2 813.9,1119.4 815.7,1118.7 817.6,1117.9 819.4,1117.1 821.2,1116.2 823.0,1115.4 824.9,1114.6 826.7,1113.7 828.5,1112.8 830.2,1111.9 832.0,1111.0 833.8,1110.0 835.6,1109.1 837.3,1108.1 839.0,1107.1 840.8,1106.1 842.5,1105.1 844.2,1104.1 845.9,1103.1 847.6,1102.0 849.3,1100.9 851.0,1099.8 852.7,1098.7 854.3,1097.6 856.0,1096.5 857.6,1095.3 859.3,1094.2 860.9,1093.0 862.5,1091.8 864.1,1090.6 865.7,1089.4 867.3,1088.2 868.9,1087.0 870.4,1085.7 872.0,1084.5 873.6,1083.2 875.1,1081.9 876.6,1080.7 878.2,1079.4 879.7,1078.1 881.2,1076.8 882.7,1075.4 884.2,1074.1 885.7,1072.8 887.2,1071.4 888.6,1070.1 890.1,1068.7 891.6,1067.3 893.0,1066.0 894.5,1064.6 895.9,1063.2 897.3,1061.8 898.8,1060.4 900.2,1059.0 901.6,1057.5 903.0,1056.1 904.4,1054.7 905.8,1053.2 907.2,1051.8 908.6,1050.4 909.9,1048.9 911.3,1047.5 912.7,1046.0 914.1,1044.5 915.4,1043.1 916.8,1041.6 918.1,1040.1 919.5,1038.6 920.8,1037.1 922.1,1035.6 923.5,1034.1 924.8,1032.7 926.1,1031.2 927.4,1029.6 928.8,1028.1 930.1,1026.6 931.4,1025.1 932.7,1023.6 934.0,1022.1 935.3,1020.6 936.6,1019.1 937.9,1017.5 939.2,1016.0 940.5,1014.5 941.8,1013.0 943.1,1011.4 944.4,1009.9 945.7,1008.4 947.0,1006.8 948.3,1005.3 949.5,1003.8 950.8,1002.2 952.1,1000.7 953.4,999.1 954.6,997.6 955.9,996.0 957.2,994.5 958.5,992.9 959.7,991.4 961.0,989.8 962.2,988.3 963.5,986.7 964.8,985.2 966.0,983.6 967.3,982.1 968.5,980.5 969.8,978.9 971.0,977.4 972.3,975.8 973.5,974.2 974.8,972.7 976.0,971.1 977.2,969.5 978.5,968.0 979.7,966.4 981.0,964.8 982.2,963.2 983.4,961.6 984.7,960.1 985.9,958.5 987.1,956.9 988.3,955.3 989.6,953.7 990.8,952.2 992.0,950.6 993.2,949.0 994.4,947.4 995.7,945.8 996.9,944.2 998.1,942.6 999.3,941.0 1000.5,939.4 1001.7,937.9 1002.9,936.3 1004.2,934.7 1005.4,933.1 1006.6,931.5 1007.8,929.9 1009.0,928.3 1010.2,926.7 1011.4,925.1 1012.6,923.5 1013.8,921.9 1015.0,920.3 1016.2,918.7 1017.4,917.1 1018.6,915.4 1019.8,913.8 1021.0,912.2 1022.2,910.6 1023.4,909.0 1024.5,907.4 1025.7,905.8 1026.9,904.2 1028.1,902.6 1029.3,901.0 1030.5,899.4 1031.7,897.8 1032.9,896.1 1034.1,894.5 1035.2,892.9 1036.4,891.3 1037.6,889.7 1038.8,888.1 1040.0,886.5 1041.2,884.8 1042.3,883.2 1043.5,881.6 1044.7,880.0 1045.9,878.4 1047.1,876.8 1048.3,875.2 1049.4,873.5 1050.6,871.9 1051.8,870.3 1053.0,868.7 1054.1,867.1 1055.3,865.4 1056.5,863.8 1057.7,862.2 1058.9,860.6 1060.0,859.0 1061.2,857.3 1062.4,855.7 1063.6,854.1 1064.7,852.5 1065.9,850.9 1067.1,849.2 1068.3,847.6 1069.4,846.0 1070.6,844.4 1071.8,842.8 1072.9,841.1 1074.1,839.5 1075.3,837.9 1076.5,836.3 1077.6,834.6 1078.8,833.0 1080.0,831.4 1081.1,829.8 1082.3,828.1 1083.5,826.5 1084.7,824.9 1085.8,823.3 1087.0,821.6 1088.2,820.0 1089.3,818.4 1090.5,816.8 1091.7,815.1 1092.8,813.5 1094.0,811.9 1095.2,810.2 1096.3,808.6 1097.5,807.0 1098.7,805.4 1099.8,803.7 1101.0,802.1 1102.1,800.5 1103.3,798.8 1104.5,797.2 1105.6,795.6 1106.8,794.0 1108.0,792.3 1109.1,790.7 1110.3,789.1 1111.4,787.4 1112.6,785.8 1113.8,784.2 1114.9,782.5 1116.1,780.9 1117.3,779.3 1118.4,777.7 1119.6,776.0 1120.7,774.4 1121.9,772.8 1123.1,771.1 1124.2,769.5 1125.4,767.9 1126.5,766.2 1127.7,764.6 1128.8,763.0 1130.0,761.3 1131.2,759.7 1132.3,758.1 1133.5,756.4 1134.6,754.8 1135.8,753.2 1137.0,751.5 1138.1,749.9 1139.3,748.3 1140.4,746.6 1141.6,745.0 1142.7,743.4 1143.9,741.7 1145.1,740.1 1146.2,738.5 1147.4,736.8 1148.5,735.2 1149.7,733.6 1150.8,731.9 1152.0,730.3 1153.1,728.7 1154.3,727.0 1155.5,725.4 1156.6,723.8 1157.8,722.1 1158.9,720.5 1160.1,718.8 1161.2,717.2 1162.4,715.6 1163.5,713.9 1164.7,712.3 1165.8,710.7 1167.0,709.0 1168.2,707.4 1169.3,705.8 1170.5,704.1 1171.6,702.5 1172.8,700.9 1173.9,699.2 1175.1,697.6 1176.2,696.0 1177.4,694.3 1178.5,692.7 1179.7,691.0 1180.9,689.4 1182.0,687.8 1183.2,686.1 1184.3,684.5 1185.5,682.9 1186.6,681.2 1187.8,679.6 1188.9,678.0 1190.1,676.3 1191.2,674.7 1192.4,673.0 1193.5,671.4 1194.7,669.8 1195.9,668.1 1197.0,666.5 1198.2,664.9 1199.3,663.2 1200.5,661.6 1201.6,660.0 1202.8,658.3 1203.9,656.7 1205.1,655.1 1206.2,653.4 1207.4,651.8 1208.5,650.1 1209.7,648.5 1210.9,646.9 1212.0,645.2 1213.2,643.6 1214.3,642.0 1215.5,640.3 1216.6,638.7 1217.8,637.1 1218.9,635.4 1220.1,633.8 1221.3,632.2 1222.4,630.5 1223.6,628.9 1224.7,627.3 1225.9,625.6 1227.0,624.0 1228.2,622.4 1229.3,620.7 1230.5,619.1 1231.7,617.4 1232.8,615.8 1234.0,614.2 1235.1,612.5 1236.3,610.9 1237.4,609.3 1238.6,607.6 1239.8,606.0 1240.9,604.4 1242.1,602.7 1243.2,601.1 1244.4,599.5 1245.5,597.8 1246.7,596.2 1247.9,594.6 1249.0,593.0 1250.2,591.3 1251.3,589.7 1252.5,588.1 1253.7,586.4 1254.8,584.8 1256.0,583.2 1257.1,581.5 1258.3,579.9 1259.5,578.3 1260.6,576.6 1261.8,575.0 1262.9,573.4 1264.1,571.7 1265.3,570.1 1266.4,568.5 1267.6,566.9 1268.8,565.2 1269.9,563.6 1271.1,562.0 1272.2,560.3 1273.4,558.7 1274.6,557.1 1275.7,555.5 1276.9,553.8 1278.1,552.2 1279.2,550.6 1280.4,548.9 1281.6,547.3 1282.7,545.7 1283.9,544.1 1285.1,542.4 1286.2,540.8 1287.4,539.2 1288.6,537.6 1289.7,535.9 1290.9,534.3 1292.1,532.7 1293.2,531.1 1294.4,529.4 1295.6,527.8 1296.7,526.2 1297.9,524.5 1299.1,522.9 1300.2,521.3 1301.4,519.7 1302.6,518.0 1303.8,516.4 1304.9,514.8 1306.1,513.2 1307.3,511.5 1308.4,509.9 1309.6,508.3 1310.8,506.7 1311.9,505.0 1313.1,503.4 1314.3,501.8 1315.4,500.2 1316.6,498.5 1317.8,496.9 1318.9,495.3 1320.1,493.6 1321.3,492.0 1322.4,490.4 1323.6,488.8 1324.8,487.1 1325.9,485.5 1327.1,483.9 1328.2,482.2 1329.4,480.6 1330.6,479.0 1331.7,477.4 1332.9,475.7 1334.1,474.1 1335.2,472.5 1336.4,470.8 1337.5,469.2 1338.7,467.6 1339.9,465.9 1341.0,464.3 1342.2,462.7 1343.3,461.0 1344.5,459.4 1345.6,457.8 1346.8,456.1 1348.0,454.5 1349.1,452.9 1350.3,451.2 1351.4,449.6 1352.6,448.0 1353.7,446.3 1354.9,444.7 1356.0,443.1 1357.2,441.4 1358.3,439.8 1359.5,438.1 1360.6,436.5 1361.8,434.9 1362.9,433.2 1364.1,431.6 1365.2,429.9 1366.4,428.3 1367.5,426.6 1368.6,425.0 1369.8,423.4 1370.9,421.7 1372.1,420.1 1373.2,418.4 1374.3,416.8 1375.5,415.1 1376.6,413.5 1377.7,411.8 1378.9,410.2 1380.0,408.5 1381.1,406.9 1382.3,405.2 1383.4,403.6 1384.5,401.9 1385.7,400.3 1386.8,398.6 1387.9,396.9 1389.0,395.3 1390.1,393.6 1391.3,392.0 1392.4,390.3 1393.5,388.7 1394.6,387.0 1395.7,385.3 1396.9,383.7 1398.0,382.0 1399.1,380.3 1400.2,378.7 1401.3,377.0 1402.4,375.3 1403.5,373.7 1404.6,372.0 1405.7,370.3 1406.8,368.7 1407.9,367.0 1409.0,365.3 1410.1,363.6 1411.2,362.0 1412.3,360.3 1413.4,358.6 1414.5,356.9 1415.6,355.3 1416.7,353.6 1417.8,351.9 1418.9,350.2 1420.0,348.5 1421.0,346.9 1422.1,345.2 1423.2,343.5 1424.3,341.8 1425.4,340.1 1426.4,338.4 1427.5,336.7 1428.6,335.0 1429.7,333.4 1430.7,331.7 1431.8,330.0 1432.9,328.3 1433.9,326.6 1435.0,324.9 1436.0,323.2 1437.1,321.5 1438.2,319.8 1439.2,318.1 1440.3,316.4 1441.3,314.7 1442.4,313.0 1443.4,311.3 1444.5,309.6 1445.5,307.9 1446.5,306.1 1447.6,304.4 1448.6,302.7 1449.7,301.0 1450.7,299.3 1451.7,297.6 1452.8,295.9 1453.8,294.1 1454.8,292.4 1455.8,290.7 1456.9,289.0 1457.9,287.3 1459.0,285.6 1460.0,283.9 1461.1,282.2 1462.2,280.5 1463.3,278.8 1464.4,277.2 1465.5,275.5 1466.6,273.9 1467.8,272.2 1469.0,270.6 1470.2,269.0 1471.4,267.4 1472.7,265.9 1474.1,264.5 1475.6,263.1 1477.1,261.8 1478.7,260.7 1480.5,259.8 1482.4,259.1 1484.4,258.9 1486.4,259.1 1488.3,259.6 1490.2,260.3 1491.9,261.3 1493.6,262.5 1495.2,263.7 1496.6,265.1 1498.0,266.5 1499.3,268.0 1500.6,269.6 1501.8,271.2 1502.9,272.8 1503.9,274.5 1504.9,276.3 1505.9,278.1 1506.7,279.9 1507.5,281.7 1508.3,283.6 1509.0,285.4 1509.6,287.3 1510.2,289.2 1510.8,291.2 1511.3,293.1 1511.8,295.0 1512.2,297.0 1512.7,298.9 1513.0,300.9 1513.4,302.9 1513.8,304.8 1514.1,306.8 1514.5,308.8 1514.8,310.8 1515.1,312.7 1515.4,314.7 1515.8,316.7 1516.1,318.7 1516.4,320.6 1516.8,322.6 1517.1,324.6 1517.4,326.6 1517.8,328.5 1518.1,330.5 1518.5,332.5 1518.8,334.4 1519.2,336.4 1519.6,338.4 1519.9,340.3 1520.3,342.3 1520.6,344.3 1521.0,346.3 1521.4,348.2 1521.7,350.2 1522.1,352.2 1522.5,354.1 1522.9,356.1 1523.2,358.1 1523.6,360.0 1524.0,362.0 1524.3,364.0 1524.7,365.9 1525.1,367.9 1525.4,369.9 1525.8,371.8 1526.2,373.8 1526.5,375.8 1526.9,377.7 1527.3,379.7 1527.6,381.7 1528.0,383.6 1528.3,385.6 1528.7,387.6 1529.0,389.6 1529.4,391.5 1529.7,393.5 1530.0,395.5 1530.4,397.5 1530.7,399.4 1531.0,401.4 1531.4,403.4 1531.7,405.3 1532.0,407.3 1532.4,409.3 1532.7,411.3 1533.0,413.3 1533.3,415.2 1533.6,417.2 1533.9,419.2 1534.2,421.2 1534.5,423.1 1534.9,425.1 1535.2,427.1 1535.5,429.1 1535.8,431.1 1536.1,433.0 1536.4,435.0 1536.6,437.0 1536.9,439.0 1537.2,441.0 1537.5,442.9 1537.8,444.9 1538.1,446.9 1538.4,448.9 1538.6,450.9 1538.9,452.8 1539.2,454.8 1539.5,456.8 1539.7,458.8 1540.0,460.8 1540.3,462.8 1540.6,464.7 1540.8,466.7 1541.1,468.7 1541.4,470.7 1541.6,472.7 1541.9,474.7 1542.1,476.7 1542.4,478.6 1542.7,480.6 1542.9,482.6 1543.2,484.6 1543.4,486.6 1543.7,488.6 1543.9,490.6 1544.2,492.5 1544.4,494.5 1544.7,496.5 1544.9,498.5 1545.1,500.5 1545.4,502.5 1545.6,504.5 1545.9,506.5 1546.1,508.4 1546.3,510.4 1546.6,512.4 1546.8,514.4 1547.1,516.4 1547.3,518.4 1547.5,520.4 1547.8,522.4 1548.0,524.3 1548.2,526.3 1548.4,528.3 1548.7,530.3 1548.9,532.3 1549.1,534.3 1549.4,536.3 1549.6,538.3 1549.8,540.3 1550.0,542.2 1550.3,544.2 1550.5,546.2 1550.7,548.2 1550.9,550.2 1551.1,552.2 1551.4,554.2 1551.6,556.2 1551.8,558.2 1552.0,560.2 1552.2,562.1 1552.5,564.1 1552.7,566.1 1552.9,568.1 1553.1,570.1 1553.3,572.1 1553.5,574.1 1553.8,576.1 1554.0,578.1 1554.2,580.1 1554.4,582.0 1554.6,584.0 1554.8,586.0 1555.1,588.0 1555.3,590.0 1555.5,592.0 1555.7,594.0 1555.9,596.0 1556.1,598.0 1556.3,600.0 1556.5,601.9 1556.8,603.9 1557.0,605.9 1557.2,607.9 1557.4,609.9 1557.6,611.9 1557.8,613.9 1558.0,615.9 1558.3,617.9 1558.5,619.9 1558.7,621.9 1558.9,623.8 1559.1,625.8 1559.3,627.8 1559.5,629.8 1559.8,631.8 1560.0,633.8 1560.2,635.8 1560.4,637.8 1560.6,639.8 1560.8,641.8 1561.0,643.7 1561.2,645.7 1561.5,647.7 1561.7,649.7 1561.9,651.7 1562.1,653.7 1562.3,655.7 1562.5,657.7 1562.7,659.7 1563.0,661.7 1563.2,663.7 1563.4,665.6 1563.6,667.6 1563.8,669.6 1564.0,671.6 1564.2,673.6 1564.4,675.6 1564.7,677.6 1564.9,679.6 1565.1,681.6 1565.3,683.6 1565.5,685.5 1565.7,687.5 1565.9,689.5 1566.1,691.5 1566.4,693.5 1566.6,695.5 1566.8,697.5 1567.0,699.5 1567.2,701.5 1567.4,703.5 1567.6,705.5 1567.8,707.4 1568.1,709.4 1568.3,711.4 1568.5,713.4 1568.7,715.4 1568.9,717.4 1569.1,719.4 1569.3,721.4 1569.6,723.4 1569.8,725.4 1570.0,727.4 1570.2,729.3 1570.4,731.3 1570.6,733.3 1570.8,735.3 1571.0,737.3 1571.3,739.3 1571.5,741.3 1571.7,743.3 1571.9,745.3 1572.1,747.3 1572.3,749.2 1572.5,751.2 1572.8,753.2 1573.0,755.2 1573.2,757.2 1573.4,759.2 1573.6,761.2 1573.8,763.2 1574.0,765.2 1574.3,767.2 1574.5,769.2 1574.7,771.1 1574.9,773.1 1575.1,775.1 1575.3,777.1 1575.5,779.1 1575.8,781.1 1576.0,783.1 1576.2,785.1 1576.4,787.1 1576.6,789.1 1576.8,791.0 1577.0,793.0 1577.3,795.0 1577.5,797.0 1577.7,799.0 1577.9,801.0 1578.1,803.0 1578.3,805.0 1578.6,807.0 1578.8,809.0 1579.0,810.9 1579.2,812.9 1579.4,814.9 1579.6,816.9 1579.8,818.9 1580.1,820.9 1580.3,822.9 1580.5,824.9 1580.7,826.9 1580.9,828.9 1581.1,830.8 1581.4,832.8 1581.6,834.8 1581.8,836.8 1582.0,838.8 1582.2,840.8 1582.4,842.8 1582.7,844.8 1582.9,846.8 1583.1,848.8 1583.3,850.8 1583.5,852.7 1583.8,854.7 1584.0,856.7 1584.2,858.7 1584.4,860.7 1584.6,862.7 1584.8,864.7 1585.1,866.7 1585.3,868.7 1585.5,870.6 1585.7,872.6 1585.9,874.6 1586.2,876.6 1586.4,878.6 1586.6,880.6 1586.8,882.6 1587.0,884.6 1587.3,886.6 1587.5,888.6 1587.7,890.5 1587.9,892.5 1588.1,894.5 1588.4,896.5 1588.6,898.5 1588.8,900.5 1589.0,902.5 1589.3,904.5 1589.5,906.5 1589.7,908.5 1589.9,910.4 1590.1,912.4 1590.4,914.4 1590.6,916.4 1590.8,918.4 1591.0,920.4 1591.3,922.4 1591.5,924.4 1591.7,926.4 1591.9,928.3 1592.2,930.3 1592.4,932.3 1592.6,934.3 1592.8,936.3 1593.0,938.3 1593.3,940.3 1593.5,942.3 1593.7,944.3 1593.9,946.3 1594.2,948.2 1594.4,950.2 1594.6,952.2 1594.9,954.2 1595.1,956.2 1595.3,958.2 1595.5,960.2 1595.8,962.2 1596.0,964.2 1596.2,966.1 1596.4,968.1 1596.7,970.1 1596.9,972.1 1597.1,974.1 1597.4,976.1 1597.6,978.1 1597.8,980.1 1598.0,982.1 1598.3,984.0 1598.5,986.0 1598.7,988.0 1599.0,990.0 1599.2,992.0 1599.4,994.0 1599.6,996.0 1599.9,998.0 1600.1,1000.0 1600.3,1001.9 1600.6,1003.9 1600.8,1005.9 1601.0,1007.9 1601.3,1009.9 1601.5,1011.9 1601.7,1013.9 1602.0,1015.9 1602.2,1017.8 1602.4,1019.8 1602.7,1021.8 1602.9,1023.8 1603.1,1025.8 1603.4,1027.8 1603.6,1029.8 1603.8,1031.8 1604.1,1033.8 1604.3,1035.7 1604.5,1037.7 1604.8,1039.7 1605.0,1041.7 1605.2,1043.7 1605.5,1045.7 1605.7,1047.7 1606.0,1049.7 1606.2,1051.6 1606.4,1053.6 1606.7,1055.6 1606.9,1057.6 1607.1,1059.6 1607.4,1061.6 1607.6,1063.6 1607.9,1065.6 1608.1,1067.5 1608.3,1069.5 1608.6,1071.5 1608.8,1073.5 1609.1,1075.5 1609.3,1077.5 1609.5,1079.5 1609.8,1081.5 1610.0,1083.4 1610.3,1085.4 1610.5,1087.4 1610.8,1089.4 1611.0,1091.4 1611.2,1093.4 1611.5,1095.4 1611.7,1097.4 1612.0,1099.3 1612.2,1101.3 1612.5,1103.3 1612.7,1105.3 1612.9,1107.3 1613.2,1109.3 1613.4,1111.3 1613.7,1113.3 1613.9,1115.2 1614.2,1117.2 1614.4,1119.2 1614.7,1121.2 1614.9,1123.2 1615.2,1125.2 1615.4,1127.2 1615.7,1129.1 1615.9,1131.1 1616.2,1133.1 1616.4,1135.1 1616.7,1137.1 1616.9,1139.1 1617.2,1141.1 1617.4,1143.0 1617.7,1145.0 1617.9,1147.0 1618.2,1149.0 1618.4,1151.0 1618.7,1153.0 1618.9,1155.0 1619.2,1156.9 1619.4,1158.9 1619.7,1160.9 1619.9,1162.9 1620.2,1164.9 1620.5,1166.9 1620.7,1168.9 1621.0,1170.8 1621.2,1172.8 1621.5,1174.8 1621.7,1176.8 1622.0,1178.8 1622.2,1180.8 1622.5,1182.8 1622.8,1184.7 1623.0,1186.7 1623.3,1188.7 1623.5,1190.7 1623.8,1192.7 1624.1,1194.7 1624.3,1196.7 1624.6,1198.6 1624.8,1200.6 1625.1,1202.6 1625.4,1204.6 1625.6,1206.6 1625.9,1208.6 1626.1,1210.5 1626.4,1212.5 1626.7,1214.5 1626.9,1216.5 1627.2,1218.5 1627.5,1220.5 1627.7,1222.5 1628.0,1224.4 1628.3,1226.4 1628.5,1228.4 1628.8,1230.4 1629.1,1232.4 1629.3,1234.4 1629.6,1236.3 1629.9,1238.3 1630.1,1240.3 1630.4,1242.3 1630.7,1244.3 1630.9,1246.3 1631.2,1248.2 1631.5,1250.2 1631.8,1252.2 1632.0,1254.2 1632.3,1256.2 1632.6,1258.2 1632.8,1260.1 1633.1,1262.1 1633.4,1264.1 1633.7,1266.1 1633.9,1268.1 1634.2,1270.1 1634.5,1272.0 1634.8,1274.0 1635.0,1276.0 1635.3,1278.0 1635.6,1280.0 1635.9,1282.0 1636.2,1283.9 1636.4,1285.9 1636.7,1287.9 1637.0,1289.9 1637.3,1291.9 1637.6,1293.9 1637.8,1295.8 1638.1,1297.8 1638.4,1299.8 1638.7,1301.8 1639.0,1303.8 1639.2,1305.7 1639.5,1307.7 1639.8,1309.7 1640.1,1311.7 1640.4,1313.7 1640.7,1315.7 1640.9,1317.6 1641.2,1319.6 1641.5,1321.6 1641.8,1323.6 1642.1,1325.6 1642.4,1327.5 1642.7,1329.5 1643.0,1331.5 1643.3,1333.5 1643.6,1335.5 1643.9,1337.4 1644.2,1339.4 1644.5,1341.4 1644.8,1343.4 1645.1,1345.3 1645.4,1347.3 1645.8,1349.3 1646.1,1351.3 1646.4,1353.3 1646.7,1355.2 1647.1,1357.2 1647.4,1359.2 1647.8,1361.1 1648.1,1363.1 1648.4,1365.1 1648.8,1367.1 1649.2,1369.0 1649.5,1371.0 1649.9,1373.0 1650.3,1374.9 1650.6,1376.9 1651.0,1378.9 1651.4,1380.8 1651.8,1382.8 1652.2,1384.8 1652.6,1386.7 1653.0,1388.7 1653.4,1390.6 1653.8,1392.6 1654.2,1394.6 1654.7,1396.5 1655.1,1398.5 1655.5,1400.4 1656.0,1402.4 1656.5,1404.3 1656.9,1406.3 1657.4,1408.2 1657.9,1410.1 1658.4,1412.1 1658.9,1414.0 1659.5,1415.9 1660.0,1417.9 1660.6,1419.8 1661.3,1421.7 1661.9,1423.6 1662.6,1425.4 1663.4,1427.3 1664.1,1429.1 1664.9,1431.0 1665.8,1432.8 1666.7,1434.6 1667.7,1436.3 1668.7,1438.0 1669.8,1439.7 1671.0,1441.3 1672.2,1442.9 1673.5,1444.4 1674.9,1445.9 1676.3,1447.3 1677.8,1448.6 1679.4,1449.8 1681.0,1451.0 1682.7,1452.1 1684.4,1453.1 1686.2,1454.0 1688.0,1454.9 1689.8,1455.7 1691.7,1456.5 1693.6,1457.2 1695.5,1457.8 1697.4,1458.5 1699.3,1459.0 1701.2,1459.6 1703.2,1460.0 1705.1,1460.5 1707.1,1460.9 1709.0,1461.3 1711.0,1461.7 1713.0,1462.1 1714.9,1462.4 1716.9,1462.8 1718.9,1463.1 1720.9,1463.4 1722.8,1463.6 1724.8,1463.9 1726.8,1464.2 1728.8,1464.5 1730.8,1464.7 1732.8,1465.0 1734.7,1465.3 1736.7,1465.5 1738.7,1465.8 1740.7,1466.1 1742.7,1466.4 1744.6,1466.7 1746.6,1467.0 1748.6,1467.4 1750.6,1467.7 1752.5,1468.1 1754.5,1468.6 1756.4,1469.0 1758.4,1469.5 1760.3,1470.1 1762.2,1470.6 1764.1,1471.3 1766.0,1472.0 1767.1,1472.2 1768.3,1472.5 1769.7,1472.8 1771.3,1473.1 1773.0,1473.5 1774.8,1473.9 1776.7,1474.3 1778.8,1474.7 1780.9,1475.1 1783.1,1475.5 1785.4,1475.9 1787.8,1476.3 1790.3,1476.7 1792.8,1477.0 1795.4,1477.3 1798.0,1477.5 1799.6,1477.6 1801.3,1477.7 1803.0,1477.9 1804.8,1478.0 1806.6,1478.1 1808.4,1478.2 1810.3,1478.3 1812.2,1478.4 1814.1,1478.4 1816.0,1478.5 1818.0,1478.6 1820.0,1478.6 1822.1,1478.7 1824.1,1478.7 1826.2,1478.8 1828.3,1478.8 1830.4,1478.8 1832.5,1478.8 1834.7,1478.8 1836.8,1478.8 1839.0,1478.8 1841.2,1478.7 1843.4,1478.7 1845.6,1478.6 1847.8,1478.6 1850.0,1478.5 1851.9,1478.4 1853.9,1478.3 1855.9,1478.2 1858.0,1478.1 1860.2,1477.9 1862.5,1477.8 1864.7,1477.6 1867.0,1477.4 1869.4,1477.2 1871.7,1477.0 1874.1,1476.8 1876.5,1476.6 1878.9,1476.4 1881.2,1476.1 1883.6,1475.9 1885.9,1475.7 1888.2,1475.5 1890.5,1475.2 1892.7,1475.0 1894.9,1474.8 1897.0,1474.6 1899.0,1474.4 1900.9,1474.2 1902.8,1474.0 1904.6,1473.8 1906.3,1473.6 1907.9,1473.5 1909.3,1473.3 1910.7,1473.2 1911.9,1473.1 1913.0,1473.0" fill="none" stroke="#008000" stroke-width="6" stroke-linejoin="round" stroke-linecap="round"/>
<polygon points="238.0,1293.0 278.0,1293.0 258.0,1328.0" fill="#008000"/>
<polygon points="482.6,1145.8 522.6,1145.8 502.6,1180.8" fill="#008000"/>
<polygon points="886.9,1041.7 926.9,1041.7 906.9,1076.7" fill="#008000"/>
<polygon points="1257.1,542.0 1297.1,542.0 1277.1,577.0" fill="#008000"/>
<polygon points="1461.9,247.4 1501.9,247.4 1481.9,282.4" fill="#008000"/>
<polygon points="1656.6,1436.3 1696.6,1436.3 1676.6,1471.3" fill="#008000"/>
<polygon points="1746.0,1460.3 1786.0,1460.3 1766.0,1495.3" fill="#008000"/>
<polygon points="1893.0,1457.3 1933.0,1457.3 1913.0,1492.3" fill="#008000"/>
<path d="M262.0,1307.5L263.6,1306.3 265.3,1305.2 267.0,1304.1 268.6,1303.0 270.3,1301.9 272.0,1300.8 273.6,1299.7 275.3,1298.6 277.0,1297.4 278.6,1296.3 280.3,1295.2 282.0,1294.1 283.6,1293.0 285.3,1291.9 287.0,1290.8 288.6,1289.7 290.3,1288.6 292.0,1287.5 293.7,1286.4 295.3,1285.4 297.0,1284.3 298.7,1283.2 300.4,1282.1 302.1,1281.0 303.7,1279.9 305.4,1278.8 307.1,1277.7 308.8,1276.7 310.5,1275.6 312.2,1274.5 313.8,1273.4 315.5,1272.3 317.2,1271.3 318.9,1270.2 320.6,1269.1 322.3,1268.0 324.0,1267.0 325.7,1265.9 327.4,1264.8 329.1,1263.8 330.8,1262.7 332.5,1261.6 334.1,1260.6 335.8,1259.5 337.5,1258.5 339.2,1257.4 340.9,1256.4 342.6,1255.3 344.3,1254.2 346.0,1253.2 347.8,1252.1 349.5,1251.1 351.2,1250.0 352.9,1249.0 354.6,1248.0 356.3,1246.9 358.0,1245.9 359.7,1244.8 361.4,1243.8 363.1,1242.8 364.8,1241.7 366.5,1240.7 368.3,1239.6 370.0,1238.6 371.7,1237.6 373.4,1236.6 375.1,1235.5 376.8,1234.5 378.6,1233.5 380.3,1232.5 382.0,1231.4 383.7,1230.4 385.4,1229.4 387.2,1228.4 388.9,1227.4 390.6,1226.3 392.3,1225.3 394.1,1224.3 395.8,1223.3 397.5,1222.3 399.3,1221.3 401.0,1220.3 402.7,1219.3 404.5,1218.3 406.2,1217.3 407.9,1216.3 409.7,1215.3 411.4,1214.3 413.1,1213.3 414.9,1212.3 416.6,1211.3 418.3,1210.3 420.1,1209.3 421.8,1208.3 423.6,1207.3 425.3,1206.4 427.0,1205.4 428.8,1204.4 430.5,1203.4 432.3,1202.4 434.0,1201.5 435.8,1200.5 437.5,1199.5 439.3,1198.5 441.0,1197.6 442.8,1196.6 444.5,1195.6 446.3,1194.7 448.0,1193.7 449.8,1192.7 451.5,1191.8 453.3,1190.8 455.0,1189.9 456.8,1188.9 458.6,1187.9 460.3,1187.0 462.1,1186.0 463.8,1185.1 465.6,1184.1 467.4,1183.2 469.1,1182.2 470.9,1181.3 472.7,1180.4 474.4,1179.4 476.2,1178.5 478.0,1177.5 479.7,1176.6 481.5,1175.7 483.3,1174.7 485.0,1173.8 486.8,1172.9 488.6,1171.9 490.4,1171.0 492.1,1170.1 493.9,1169.2 495.7,1168.2 497.5,1167.3 499.2,1166.4 501.0,1165.5 502.8,1164.6 504.6,1163.6 506.4,1162.7 508.1,1161.8 509.9,1160.9 511.7,1160.0 513.5,1159.1 515.3,1158.2 517.1,1157.3 518.8,1156.4 520.6,1155.5 522.4,1154.6 524.2,1153.7 526.0,1152.8 527.8,1151.9 529.6,1151.0 531.4,1150.1 533.2,1149.2 535.0,1148.3 536.8,1147.5 538.6,1146.6 540.4,1145.7 542.1,1144.8 543.9,1143.9 545.7,1143.1 547.5,1142.2 549.3,1141.3 551.1,1140.4 553.0,1139.6 554.8,1138.7 556.6,1137.8 558.4,1137.0 560.2,1136.1 562.0,1135.3 563.8,1134.4 565.6,1133.5 567.4,1132.7 569.2,1131.8 571.0,1131.0 572.8,1130.1 574.6,1129.3 576.5,1128.4 578.3,1127.6 580.1,1126.7 581.9,1125.9 583.7,1125.1 585.5,1124.2 587.4,1123.4 589.2,1122.5 591.0,1121.7 592.8,1120.9 594.6,1120.1 596.5,1119.2 598.3,1118.4 600.1,1117.6 601.9,1116.7 603.7,1115.9 605.6,1115.1 607.4,1114.3 609.2,1113.5 611.1,1112.6 612.9,1111.8 614.7,1111.0 616.5,1110.2 618.4,1109.4 620.2,1108.6 622.0,1107.8 623.9,1107.0 625.7,1106.2 627.5,1105.4 629.4,1104.5 631.2,1103.7 633.0,1102.9 634.9,1102.1 636.7,1101.3 638.5,1100.5 640.4,1099.7 642.2,1098.9 644.0,1098.2 645.9,1097.4 647.7,1096.6 649.5,1095.8 651.4,1095.0 653.2,1094.2 655.1,1093.4 656.9,1092.6 658.7,1091.8 660.6,1091.0 662.4,1090.2 664.3,1089.5 666.1,1088.7 667.9,1087.9 669.8,1087.1 671.6,1086.3 673.5,1085.5 675.3,1084.8 677.2,1084.0 679.0,1083.2 680.8,1082.4 682.7,1081.6 684.5,1080.9 686.4,1080.1 688.2,1079.3 690.1,1078.5 691.9,1077.8 693.7,1077.0 695.6,1076.2 697.4,1075.4 699.3,1074.7 701.1,1073.9 703.0,1073.1 704.8,1072.3 706.7,1071.6 708.5,1070.8 710.4,1070.0 712.2,1069.2 714.0,1068.5 715.9,1067.7 717.7,1066.9 719.6,1066.2 721.4,1065.4 723.3,1064.6 725.1,1063.8 727.0,1063.1 728.8,1062.3 730.7,1061.5 732.5,1060.8 734.4,1060.0 736.2,1059.2 738.1,1058.4 739.9,1057.7 741.7,1056.9 743.6,1056.1 745.4,1055.3 747.3,1054.6 749.1,1053.8 751.0,1053.0 752.8,1052.3 754.7,1051.5 756.5,1050.7 758.4,1049.9 760.2,1049.2 762.0,1048.4 763.9,1047.6 765.7,1046.8 767.6,1046.1 769.4,1045.3 771.3,1044.5 773.1,1043.7 775.0,1042.9 776.8,1042.2 778.6,1041.4 780.5,1040.6 782.3,1039.8 784.2,1039.0 786.0,1038.3 787.9,1037.5 789.7,1036.7 791.5,1035.9 793.4,1035.1 795.2,1034.4 797.1,1033.6 798.9,1032.8 800.7,1032.0 802.6,1031.2 804.4,1030.4 806.3,1029.6 808.1,1028.8 809.9,1028.0 811.8,1027.2 813.6,1026.5 815.5,1025.7 817.3,1024.9 819.1,1024.1 821.0,1023.3 822.8,1022.5 824.6,1021.7 826.5,1020.9 828.3,1020.1 830.1,1019.3 832.0,1018.5 833.8,1017.7 835.6,1016.8 837.5,1016.0 839.3,1015.2 841.1,1014.4 842.9,1013.6 844.8,1012.8 846.6,1012.0 848.4,1011.2 850.3,1010.3 852.1,1009.5 853.9,1008.7 855.7,1007.9 857.6,1007.1 859.4,1006.2 861.2,1005.4 863.0,1004.6 864.9,1003.8 866.7,1002.9 868.5,1002.1 870.3,1001.3 872.1,1000.4 873.9,999.6 875.8,998.8 877.6,997.9 879.4,997.1 881.2,996.2 883.0,995.4 884.8,994.5 886.7,993.7 888.5,992.8 890.3,992.0 892.1,991.1 893.9,990.3 895.7,989.4 897.5,988.6 899.3,987.7 901.1,986.8 902.9,986.0 904.7,985.1 906.5,984.2 908.3,983.4 910.1,982.5 911.9,981.6 913.7,980.7 915.5,979.9 917.3,979.0 919.1,978.1 920.9,977.2 922.7,976.3 924.5,975.4 926.3,974.5 928.1,973.6 929.9,972.7 931.7,971.8 933.4,970.9 935.2,970.0 937.0,969.1 938.8,968.2 940.6,967.3 942.4,966.4 944.1,965.5 945.9,964.6 947.7,963.6 949.5,962.7 951.2,961.8 953.0,960.8 954.8,959.9 956.5,959.0 958.3,958.0 960.1,957.1 961.8,956.1 963.6,955.2 965.4,954.2 967.1,953.3 968.9,952.3 970.6,951.4 972.4,950.4 974.1,949.4 975.9,948.4 977.6,947.5 979.4,946.5 981.1,945.5 982.8,944.5 984.6,943.5 986.3,942.5 988.1,941.5 989.8,940.5 991.5,939.5 993.2,938.5 995.0,937.5 996.7,936.5 998.4,935.4 1000.1,934.4 1001.8,933.4 1003.6,932.3 1005.3,931.3 1007.0,930.2 1008.7,929.2 1010.4,928.1 1012.1,927.1 1013.8,926.0 1015.5,925.0 1017.1,923.9 1018.8,922.8 1020.5,921.7 1022.2,920.6 1023.9,919.5 1025.6,918.4 1027.2,917.3 1028.9,916.2 1030.6,915.1 1032.2,914.0 1033.9,912.9 1035.5,911.8 1037.2,910.6 1038.8,909.5 1040.5,908.4 1042.1,907.2 1043.7,906.1 1045.4,904.9 1047.0,903.7 1048.6,902.6 1050.3,901.4 1051.9,900.2 1053.5,899.0 1055.1,897.9 1056.7,896.7 1058.3,895.5 1059.9,894.2 1061.5,893.0 1063.1,891.8 1064.7,890.6 1066.2,889.4 1067.8,888.1 1069.4,886.9 1071.0,885.6 1072.5,884.4 1074.1,883.1 1075.6,881.9 1077.2,880.6 1078.7,879.3 1080.2,878.0 1081.8,876.7 1083.3,875.4 1084.8,874.1 1086.3,872.8 1087.8,871.5 1089.3,870.2 1090.8,868.9 1092.3,867.5 1093.8,866.2 1095.3,864.9 1096.8,863.5 1098.3,862.2 1099.7,860.8 1101.2,859.4 1102.6,858.0 1104.1,856.7 1105.5,855.3 1106.9,853.9 1108.4,852.5 1109.8,851.1 1111.2,849.6 1112.6,848.2 1114.0,846.8 1115.4,845.4 1116.8,843.9 1118.2,842.5 1119.6,841.0 1121.0,839.6 1122.3,838.1 1123.7,836.6 1125.0,835.2 1126.4,833.7 1127.7,832.2 1129.1,830.7 1130.4,829.2 1131.7,827.7 1133.1,826.2 1134.4,824.7 1135.7,823.2 1137.0,821.7 1138.3,820.2 1139.6,818.6 1140.9,817.1 1142.2,815.6 1143.4,814.0 1144.7,812.5 1146.0,810.9 1147.2,809.4 1148.5,807.8 1149.7,806.3 1151.0,804.7 1152.2,803.1 1153.5,801.6 1154.7,800.0 1155.9,798.4 1157.1,796.8 1158.4,795.2 1159.6,793.6 1160.8,792.0 1162.0,790.4 1163.2,788.8 1164.4,787.2 1165.5,785.6 1166.7,784.0 1167.9,782.4 1169.1,780.8 1170.2,779.1 1171.4,777.5 1172.6,775.9 1173.7,774.2 1174.9,772.6 1176.0,771.0 1177.2,769.3 1178.3,767.7 1179.4,766.0 1180.6,764.4 1181.7,762.7 1182.8,761.0 1183.9,759.4 1185.0,757.7 1186.1,756.1 1187.2,754.4 1188.3,752.7 1189.4,751.0 1190.5,749.4 1191.6,747.7 1192.7,746.0 1193.8,744.3 1194.9,742.6 1195.9,740.9 1197.0,739.2 1198.1,737.6 1199.1,735.9 1200.2,734.2 1201.2,732.5 1202.3,730.8 1203.3,729.1 1204.4,727.3 1205.4,725.6 1206.5,723.9 1207.5,722.2 1208.5,720.5 1209.6,718.8 1210.6,717.1 1211.6,715.3 1212.6,713.6 1213.7,711.9 1214.7,710.2 1215.7,708.5 1216.7,706.7 1217.7,705.0 1218.7,703.3 1219.7,701.5 1220.7,699.8 1221.7,698.1 1222.7,696.3 1223.7,694.6 1224.7,692.9 1225.7,691.1 1226.7,689.4 1227.6,687.6 1228.6,685.9 1229.6,684.1 1230.6,682.4 1231.5,680.6 1232.5,678.9 1233.5,677.1 1234.5,675.4 1235.4,673.6 1236.4,671.9 1237.4,670.1 1238.3,668.4 1239.3,666.6 1240.2,664.9 1241.2,663.1 1242.2,661.3 1243.1,659.6 1244.1,657.8 1245.0,656.1 1246.0,654.3 1246.9,652.5 1247.9,650.8 1248.8,649.0 1249.8,647.3 1250.7,645.5 1251.6,643.7 1252.6,642.0 1253.5,640.2 1254.5,638.4 1255.4,636.7 1256.3,634.9 1257.3,633.1 1258.2,631.4 1259.2,629.6 1260.1,627.8 1261.0,626.1 1262.0,624.3 1262.9,622.5 1263.8,620.8 1264.8,619.0 1265.7,617.2 1266.7,615.4 1267.6,613.7 1268.5,611.9 1269.5,610.1 1270.4,608.4 1271.3,606.6 1272.3,604.8 1273.2,603.1 1274.1,601.3 1275.1,599.5 1276.0,597.8 1276.9,596.0 1277.9,594.2 1278.8,592.4 1279.8,590.7 1280.7,588.9 1281.6,587.1 1282.6,585.4 1283.5,583.6 1284.5,581.8 1285.4,580.1 1286.3,578.3 1287.3,576.6 1288.2,574.8 1289.2,573.0 1290.1,571.3 1291.1,569.5 1292.0,567.7 1293.0,566.0 1293.9,564.2 1294.9,562.5 1295.8,560.7 1296.8,558.9 1297.8,557.2 1298.7,555.4 1299.7,553.7 1300.6,551.9 1301.6,550.2 1302.6,548.4 1303.5,546.7 1304.5,544.9 1305.5,543.2 1306.4,541.4 1307.4,539.7 1308.4,537.9 1309.4,536.2 1310.3,534.4 1311.3,532.7 1312.3,530.9 1313.3,529.2 1314.2,527.4 1315.2,525.7 1316.2,523.9 1317.2,522.2 1318.2,520.4 1319.1,518.7 1320.1,517.0 1321.1,515.2 1322.1,513.5 1323.1,511.7 1324.1,510.0 1325.0,508.2 1326.0,506.5 1327.0,504.8 1328.0,503.0 1329.0,501.3 1330.0,499.5 1331.0,497.8 1332.0,496.1 1332.9,494.3 1333.9,492.6 1334.9,490.8 1335.9,489.1 1336.9,487.4 1337.9,485.6 1338.9,483.9 1339.9,482.2 1340.9,480.4 1341.9,478.7 1342.9,476.9 1343.9,475.2 1344.9,473.5 1345.9,471.7 1346.8,470.0 1347.8,468.3 1348.8,466.5 1349.8,464.8 1350.8,463.0 1351.8,461.3 1352.8,459.6 1353.8,457.8 1354.8,456.1 1355.8,454.4 1356.8,452.6 1357.8,450.9 1358.8,449.1 1359.8,447.4 1360.8,445.7 1361.8,443.9 1362.7,442.2 1363.7,440.5 1364.7,438.7 1365.7,437.0 1366.7,435.2 1367.7,433.5 1368.7,431.8 1369.7,430.0 1370.7,428.3 1371.7,426.5 1372.6,424.8 1373.6,423.1 1374.6,421.3 1375.6,419.6 1376.6,417.8 1377.6,416.1 1378.5,414.3 1379.5,412.6 1380.5,410.9 1381.5,409.1 1382.5,407.4 1383.5,405.6 1384.4,403.9 1385.4,402.1 1386.4,400.4 1387.4,398.6 1388.3,396.9 1389.3,395.1 1390.3,393.4 1391.3,391.6 1392.2,389.9 1393.2,388.1 1394.2,386.4 1395.1,384.6 1396.1,382.9 1397.1,381.1 1398.0,379.4 1399.0,377.6 1400.0,375.9 1400.9,374.1 1401.9,372.4 1402.8,370.6 1403.8,368.8 1404.7,367.1 1405.7,365.3 1406.6,363.6 1407.6,361.8 1408.5,360.0 1409.5,358.3 1410.4,356.5 1411.4,354.7 1412.3,353.0 1413.3,351.2 1414.2,349.5 1415.1,347.7 1416.1,345.9 1417.0,344.1 1417.9,342.4 1418.9,340.6 1419.8,338.8 1420.7,337.1 1421.7,335.3 1422.6,333.5 1423.5,331.7 1424.5,330.0 1425.4,328.2 1426.3,326.4 1427.3,324.7 1428.2,322.9 1429.1,321.1 1430.1,319.4 1431.0,317.6 1432.0,315.8 1432.9,314.1 1433.9,312.3 1434.8,310.5 1435.8,308.8 1436.7,307.0 1437.7,305.3 1438.6,303.5 1439.6,301.8 1440.6,300.0 1441.6,298.3 1442.5,296.5 1443.5,294.8 1444.5,293.0 1445.5,291.3 1446.5,289.6 1447.5,287.9 1448.6,286.1 1449.6,284.4 1450.6,282.7 1451.6,281.0 1452.7,279.3 1453.7,277.6 1454.8,275.9 1455.9,274.2 1456.9,272.5 1458.0,270.8 1459.1,269.1 1460.2,267.5 1461.3,265.8 1462.4,264.1 1463.6,262.5 1464.7,260.8 1465.8,259.2 1467.0,257.5 1468.2,255.9 1469.3,254.3 1470.5,252.7 1471.7,251.1 1472.9,249.5 1474.1,247.9 1475.4,246.3 1476.6,244.7 1477.9,243.2 1479.1,241.6 1480.4,240.1 1481.7,238.6 1483.0,237.0 1484.3,235.5 1485.6,234.0 1487.0,232.5 1488.3,231.1 1489.7,229.6 1491.1,228.1 1492.4,226.7 1493.8,225.3 1495.3,223.9 1496.7,222.5 1498.1,221.1 1499.6,219.7 1501.1,218.3 1502.5,217.0 1504.0,215.7 1505.5,214.4 1507.1,213.1 1508.6,211.8 1510.1,210.5 1511.7,209.2 1513.3,208.0 1514.9,206.8 1516.5,205.6 1518.1,204.4 1519.7,203.2 1521.3,202.1 1523.0,201.0 1524.7,199.9 1526.4,198.8 1528.1,197.7 1529.8,196.7 1531.5,195.7 1533.3,194.8 1535.1,193.9 1536.9,193.0 1538.7,192.2 1540.6,191.5 1542.5,190.8 1544.4,190.2 1546.3,189.6 1548.2,189.2 1550.2,188.8 1552.2,188.5 1554.2,188.4 1556.2,188.3 1558.2,188.4 1560.2,188.5 1562.2,188.8 1564.1,189.1 1566.1,189.6 1568.0,190.2 1569.9,190.8 1571.7,191.6 1573.5,192.4 1575.3,193.4 1577.0,194.4 1578.7,195.5 1580.3,196.7 1581.8,198.0 1583.3,199.3 1584.8,200.7 1586.1,202.2 1587.5,203.7 1588.8,205.2 1590.0,206.8 1591.2,208.4 1592.3,210.0 1593.4,211.7 1594.5,213.4 1595.5,215.1 1596.5,216.8 1597.5,218.6 1598.4,220.3 1599.4,222.1 1600.2,223.9 1601.1,225.7 1601.9,227.6 1602.7,229.4 1603.5,231.2 1604.3,233.1 1605.0,234.9 1605.8,236.8 1606.5,238.7 1607.2,240.5 1607.9,242.4 1608.6,244.3 1609.2,246.2 1609.9,248.1 1610.5,250.0 1611.2,251.9 1611.8,253.8 1612.4,255.7 1613.0,257.6 1613.6,259.5 1614.2,261.4 1614.8,263.3 1615.4,265.2 1616.0,267.1 1616.6,269.0 1617.1,271.0 1617.7,272.9 1618.3,274.8 1618.8,276.7 1619.4,278.7 1619.9,280.6 1620.5,282.5 1621.0,284.4 1621.5,286.4 1622.0,288.3 1622.6,290.2 1623.1,292.2 1623.6,294.1 1624.1,296.0 1624.6,298.0 1625.1,299.9 1625.6,301.8 1626.1,303.8 1626.6,305.7 1627.1,307.7 1627.5,309.6 1628.0,311.6 1628.5,313.5 1629.0,315.4 1629.4,317.4 1629.9,319.3 1630.4,321.3 1630.8,323.2 1631.3,325.2 1631.7,327.1 1632.2,329.1 1632.6,331.0 1633.1,333.0 1633.5,334.9 1634.0,336.9 1634.4,338.8 1634.8,340.8 1635.3,342.7 1635.7,344.7 1636.1,346.7 1636.5,348.6 1637.0,350.6 1637.4,352.5 1637.8,354.5 1638.2,356.4 1638.6,358.4 1639.0,360.4 1639.4,362.3 1639.8,364.3 1640.2,366.2 1640.6,368.2 1641.0,370.2 1641.4,372.1 1641.8,374.1 1642.2,376.1 1642.6,378.0 1643.0,380.0 1643.3,381.9 1643.7,383.9 1644.1,385.9 1644.5,387.8 1644.8,389.8 1645.2,391.8 1645.6,393.7 1645.9,395.7 1646.3,397.7 1646.7,399.6 1647.0,401.6 1647.4,403.6 1647.7,405.6 1648.1,407.5 1648.4,409.5 1648.8,411.5 1649.1,413.4 1649.5,415.4 1649.8,417.4 1650.2,419.4 1650.5,421.3 1650.8,423.3 1651.2,425.3 1651.5,427.2 1651.8,429.2 1652.2,431.2 1652.5,433.2 1652.8,435.1 1653.1,437.1 1653.5,439.1 1653.8,441.1 1654.1,443.0 1654.4,445.0 1654.7,447.0 1655.0,449.0 1655.3,451.0 1655.7,452.9 1656.0,454.9 1656.3,456.9 1656.6,458.9 1656.9,460.8 1657.2,462.8 1657.5,464.8 1657.8,466.8 1658.1,468.8 1658.4,470.7 1658.7,472.7 1658.9,474.7 1659.2,476.7 1659.5,478.7 1659.8,480.6 1660.1,482.6 1660.4,484.6 1660.7,486.6 1661.0,488.6 1661.2,490.5 1661.5,492.5 1661.8,494.5 1662.1,496.5 1662.3,498.5 1662.6,500.5 1662.9,502.4 1663.2,504.4 1663.4,506.4 1663.7,508.4 1664.0,510.4 1664.2,512.3 1664.5,514.3 1664.8,516.3 1665.0,518.3 1665.3,520.3 1665.6,522.3 1665.8,524.3 1666.1,526.2 1666.4,528.2 1666.6,530.2 1666.9,532.2 1667.1,534.2 1667.4,536.2 1667.6,538.1 1667.9,540.1 1668.1,542.1 1668.4,544.1 1668.6,546.1 1668.9,548.1 1669.1,550.1 1669.4,552.0 1669.6,554.0 1669.9,556.0 1670.1,558.0 1670.4,560.0 1670.6,562.0 1670.9,564.0 1671.1,565.9 1671.3,567.9 1671.6,569.9 1671.8,571.9 1672.1,573.9 1672.3,575.9 1672.5,577.9 1672.8,579.9 1673.0,581.8 1673.2,583.8 1673.5,585.8 1673.7,587.8 1673.9,589.8 1674.2,591.8 1674.4,593.8 1674.6,595.8 1674.8,597.7 1675.1,599.7 1675.3,601.7 1675.5,603.7 1675.7,605.7 1676.0,607.7 1676.2,609.7 1676.4,611.7 1676.6,613.7 1676.9,615.6 1677.1,617.6 1677.3,619.6 1677.5,621.6 1677.7,623.6 1677.9,625.6 1678.2,627.6 1678.4,629.6 1678.6,631.6 1678.8,633.6 1679.0,635.5 1679.2,637.5 1679.4,639.5 1679.6,641.5 1679.9,643.5 1680.1,645.5 1680.3,647.5 1680.5,649.5 1680.7,651.5 1680.9,653.5 1681.1,655.4 1681.3,657.4 1681.5,659.4 1681.7,661.4 1681.9,663.4 1682.1,665.4 1682.3,667.4 1682.5,669.4 1682.7,671.4 1682.9,673.4 1683.1,675.4 1683.3,677.4 1683.5,679.3 1683.7,681.3 1683.9,683.3 1684.1,685.3 1684.3,687.3 1684.5,689.3 1684.7,691.3 1684.9,693.3 1685.1,695.3 1685.3,697.3 1685.5,699.3 1685.6,701.3 1685.8,703.2 1686.0,705.2 1686.2,707.2 1686.4,709.2 1686.6,711.2 1686.8,713.2 1687.0,715.2 1687.1,717.2 1687.3,719.2 1687.5,721.2 1687.7,723.2 1687.9,725.2 1688.1,727.2 1688.3,729.1 1688.4,731.1 1688.6,733.1 1688.8,735.1 1689.0,737.1 1689.2,739.1 1689.3,741.1 1689.5,743.1 1689.7,745.1 1689.9,747.1 1690.1,749.1 1690.2,751.1 1690.4,753.1 1690.6,755.1 1690.8,757.1 1690.9,759.0 1691.1,761.0 1691.3,763.0 1691.5,765.0 1691.6,767.0 1691.8,769.0 1692.0,771.0 1692.1,773.0 1692.3,775.0 1692.5,777.0 1692.7,779.0 1692.8,781.0 1693.0,783.0 1693.2,785.0 1693.3,787.0 1693.5,789.0 1693.7,791.0 1693.9,792.9 1694.0,794.9 1694.2,796.9 1694.4,798.9 1694.5,800.9 1694.7,802.9 1694.9,804.9 1695.0,806.9 1695.2,808.9 1695.3,810.9 1695.5,812.9 1695.7,814.9 1695.8,816.9 1696.0,818.9 1696.2,820.9 1696.3,822.9 1696.5,824.9 1696.7,826.9 1696.8,828.8 1697.0,830.8 1697.1,832.8 1697.3,834.8 1697.5,836.8 1697.6,838.8 1697.8,840.8 1697.9,842.8 1698.1,844.8 1698.3,846.8 1698.4,848.8 1698.6,850.8 1698.7,852.8 1698.9,854.8 1699.1,856.8 1699.2,858.8 1699.4,860.8 1699.5,862.8 1699.7,864.8 1699.9,866.7 1700.0,868.7 1700.2,870.7 1700.3,872.7 1700.5,874.7 1700.6,876.7 1700.8,878.7 1700.9,880.7 1701.1,882.7 1701.3,884.7 1701.4,886.7 1701.6,888.7 1701.7,890.7 1701.9,892.7 1702.0,894.7 1702.2,896.7 1702.3,898.7 1702.5,900.7 1702.7,902.7 1702.8,904.7 1703.0,906.7 1703.1,908.6 1703.3,910.6 1703.4,912.6 1703.6,914.6 1703.7,916.6 1703.9,918.6 1704.0,920.6 1704.2,922.6 1704.3,924.6 1704.5,926.6 1704.7,928.6 1704.8,930.6 1705.0,932.6 1705.1,934.6 1705.3,936.6 1705.4,938.6 1705.6,940.6 1705.7,942.6 1705.9,944.6 1706.0,946.6 1706.2,948.6 1706.3,950.6 1706.5,952.5 1706.6,954.5 1706.8,956.5 1706.9,958.5 1707.1,960.5 1707.3,962.5 1707.4,964.5 1707.6,966.5 1707.7,968.5 1707.9,970.5 1708.0,972.5 1708.2,974.5 1708.3,976.5 1708.5,978.5 1708.6,980.5 1708.8,982.5 1708.9,984.5 1709.1,986.5 1709.2,988.5 1709.4,990.5 1709.6,992.5 1709.7,994.5 1709.9,996.4 1710.0,998.4 1710.2,1000.4 1710.3,1002.4 1710.5,1004.4 1710.6,1006.4 1710.8,1008.4 1710.9,1010.4 1711.1,1012.4 1711.3,1014.4 1711.4,1016.4 1711.6,1018.4 1711.7,1020.4 1711.9,1022.4 1712.0,1024.4 1712.2,1026.4 1712.3,1028.4 1712.5,1030.4 1712.7,1032.4 1712.8,1034.4 1713.0,1036.4 1713.1,1038.3 1713.3,1040.3 1713.4,1042.3 1713.6,1044.3 1713.8,1046.3 1713.9,1048.3 1714.1,1050.3 1714.2,1052.3 1714.4,1054.3 1714.6,1056.3 1714.7,1058.3 1714.9,1060.3 1715.0,1062.3 1715.2,1064.3 1715.4,1066.3 1715.5,1068.3 1715.7,1070.3 1715.8,1072.3 1716.0,1074.3 1716.2,1076.3 1716.3,1078.2 1716.5,1080.2 1716.6,1082.2 1716.8,1084.2 1717.0,1086.2 1717.1,1088.2 1717.3,1090.2 1717.5,1092.2 1717.6,1094.2 1717.8,1096.2 1718.0,1098.2 1718.1,1100.2 1718.3,1102.2 1718.5,1104.2 1718.6,1106.2 1718.8,1108.2 1719.0,1110.2 1719.1,1112.2 1719.3,1114.1 1719.5,1116.1 1719.6,1118.1 1719.8,1120.1 1720.0,1122.1 1720.1,1124.1 1720.3,1126.1 1720.5,1128.1 1720.6,1130.1 1720.8,1132.1 1721.0,1134.1 1721.2,1136.1 1721.3,1138.1 1721.5,1140.1 1721.7,1142.1 1721.9,1144.1 1722.0,1146.0 1722.2,1148.0 1722.4,1150.0 1722.6,1152.0 1722.7,1154.0 1722.9,1156.0 1723.1,1158.0 1723.3,1160.0 1723.4,1162.0 1723.6,1164.0 1723.8,1166.0 1724.0,1168.0 1724.2,1170.0 1724.3,1172.0 1724.5,1174.0 1724.7,1175.9 1724.9,1177.9 1725.1,1179.9 1725.3,1181.9 1725.4,1183.9 1725.6,1185.9 1725.8,1187.9 1726.0,1189.9 1726.2,1191.9 1726.4,1193.9 1726.5,1195.9 1726.7,1197.9 1726.9,1199.9 1727.1,1201.9 1727.3,1203.8 1727.5,1205.8 1727.7,1207.8 1727.9,1209.8 1728.0,1211.8 1728.2,1213.8 1728.4,1215.8 1728.6,1217.8 1728.8,1219.8 1729.0,1221.8 1729.2,1223.8 1729.4,1225.8 1729.5,1227.8 1729.7,1229.8 1729.9,1231.7 1730.1,1233.7 1730.3,1235.7 1730.5,1237.7 1730.7,1239.7 1730.9,1241.7 1731.1,1243.7 1731.2,1245.7 1731.4,1247.7 1731.6,1249.7 1731.8,1251.7 1732.0,1253.7 1732.2,1255.7 1732.4,1257.6 1732.6,1259.6 1732.7,1261.6 1732.9,1263.6 1733.1,1265.6 1733.3,1267.6 1733.5,1269.6 1733.7,1271.6 1733.9,1273.6 1734.1,1275.6 1734.2,1277.6 1734.4,1279.6 1734.6,1281.6 1734.8,1283.5 1735.0,1285.5 1735.2,1287.5 1735.4,1289.5 1735.5,1291.5 1735.7,1293.5 1735.9,1295.5 1736.1,1297.5 1736.3,1299.5 1736.5,1301.5 1736.6,1303.5 1736.8,1305.5 1737.0,1307.5 1737.2,1309.5 1737.4,1311.4 1737.5,1313.4 1737.7,1315.4 1737.9,1317.4 1738.1,1319.4 1738.3,1321.4 1738.4,1323.4 1738.6,1325.4 1738.8,1327.4 1739.0,1329.4 1739.1,1331.4 1739.3,1333.4 1739.5,1335.4 1739.7,1337.4 1739.8,1339.4 1740.0,1341.3 1740.2,1343.3 1740.4,1345.3 1740.5,1347.3 1740.7,1349.3 1740.9,1351.3 1741.0,1353.3 1741.2,1355.3 1741.4,1357.3 1741.5,1359.3 1741.7,1361.3 1741.9,1363.3 1742.0,1365.3 1742.2,1367.3 1742.4,1369.3 1742.5,1371.3 1742.7,1373.3 1742.8,1375.3 1743.0,1377.2 1743.2,1379.2 1743.3,1381.2 1743.5,1383.2 1743.6,1385.2 1743.8,1387.2 1743.9,1389.2 1744.1,1391.2 1744.3,1393.2 1744.4,1395.2 1744.6,1397.2 1744.7,1399.2 1744.8,1401.2 1745.0,1403.2 1745.2,1405.2 1745.3,1407.2 1745.5,1409.2 1745.6,1411.2 1745.8,1413.2 1746.0,1415.2 1746.2,1417.1 1746.5,1419.1 1746.7,1421.1 1747.0,1423.1 1747.3,1425.1 1747.6,1427.1 1748.0,1429.0 1748.4,1431.0 1748.8,1432.9 1749.3,1434.9 1749.8,1436.8 1750.3,1438.7 1750.9,1440.6 1751.6,1442.5 1752.3,1444.4 1753.1,1446.3 1753.9,1448.1 1754.8,1449.9 1755.7,1451.6 1756.8,1453.4 1757.8,1455.0 1759.0,1456.7 1760.2,1458.3 1761.5,1459.8 1762.8,1461.3 1764.2,1462.8 1765.6,1464.1 1767.1,1465.5 1768.7,1466.7 1770.3,1467.9 1772.0,1469.0 1772.8,1469.1 1773.5,1469.2 1773.9,1469.3 1774.4,1469.5 1774.9,1469.6 1775.6,1469.8 1776.6,1470.0 1778.0,1470.1 1779.8,1470.3 1782.3,1470.5 1785.4,1470.6 1789.4,1470.8 1794.2,1470.9 1800.0,1471.0 1801.2,1471.0 1802.5,1471.0 1803.8,1471.0 1805.2,1471.1 1806.6,1471.1 1808.1,1471.1 1809.6,1471.1 1811.1,1471.1 1812.7,1471.1 1814.4,1471.1 1816.1,1471.2 1817.8,1471.2 1819.5,1471.2 1821.3,1471.2 1823.2,1471.2 1825.1,1471.2 1827.0,1471.2 1828.9,1471.2 1830.9,1471.3 1832.9,1471.3 1834.9,1471.3 1837.0,1471.3 1839.0,1471.3 1841.1,1471.3 1843.3,1471.3 1845.4,1471.3 1847.6,1471.3 1849.8,1471.3 1852.0,1471.3 1854.2,1471.4 1856.4,1471.4 1858.7,1471.4 1861.0,1471.4 1863.2,1471.4 1865.5,1471.4 1867.8,1471.4 1870.1,1471.4 1872.4,1471.4 1874.7,1471.4 1877.0,1471.4 1879.4,1471.4 1881.7,1471.4 1884.0,1471.4 1886.3,1471.4 1888.6,1471.4 1890.9,1471.4 1893.2,1471.5 1895.5,1471.5 1897.8,1471.5 1900.1,1471.5 1902.4,1471.5 1904.6,1471.5 1906.8,1471.5 1909.1,1471.5 1911.3,1471.5 1913.5,1471.5 1915.6,1471.5 1917.8,1471.5 1919.9,1471.5 1922.0,1471.5 1924.1,1471.5 1926.2,1471.5 1928.2,1471.5 1930.2,1471.5 1932.2,1471.5 1934.1,1471.5 1936.0,1471.5 1937.9,1471.5 1939.7,1471.5 1941.6,1471.5 1943.3,1471.5 1945.1,1471.5 1946.7,1471.5 1948.4,1471.5 1950.0,1471.5 1952.8,1471.5 1955.5,1471.5 1958.2,1471.5 1960.9,1471.5 1963.6,1471.5 1966.2,1471.5 1968.8,1471.5 1971.4,1471.5 1974.0,1471.5 1976.5,1471.4 1979.0,1471.4 1981.5,1471.4 1983.9,1471.4 1986.3,1471.4 1988.7,1471.4 1991.0,1471.4 1993.4,1471.4 1995.6,1471.3 1997.9,1471.3 2000.1,1471.3 2002.2,1471.3 2004.3,1471.3 2006.4,1471.3 2008.4,1471.2 2010.4,1471.2 2012.4,1471.2 2014.3,1471.2 2016.1,1471.2 2017.9,1471.2 2019.7,1471.1 2021.4,1471.1 2023.1,1471.1 2024.7,1471.1 2026.2,1471.1 2027.8,1471.1 2029.2,1471.1 2030.6,1471.1 2031.9,1471.0 2033.2,1471.0 2034.5,1471.0 2035.6,1471.0 2036.7,1471.0 2037.8,1471.0" fill="none" stroke="#f030f0" stroke-width="6" stroke-linejoin="round" stroke-linecap="round"/>
<path d="M1790.0,1471.2H2037.0" stroke="#f030f0" stroke-width="8.5" fill="none"/>
<polygon points="262.0,1286.5 282.5,1307.5 262.0,1328.5 241.5,1307.5" fill="#f030f0"/>
<polygon points="531.5,1129.0 552.0,1150.0 531.5,1171.0 511.0,1150.0" fill="#f030f0"/>
<polygon points="1102.8,837.5 1123.3,858.5 1102.8,879.5 1082.3,858.5" fill="#f030f0"/>
<polygon points="1578.7,174.2 1599.2,195.2 1578.7,216.2 1558.2,195.2" fill="#f030f0"/>
<polygon points="1579.7,174.5 1600.2,195.5 1579.7,216.5 1559.2,195.5" fill="#f030f0"/>
<polygon points="1747.4,1401.8 1767.9,1422.8 1747.4,1443.8 1726.9,1422.8" fill="#f030f0"/>
<polygon points="1772.0,1448.0 1792.5,1469.0 1772.0,1490.0 1751.5,1469.0" fill="#f030f0"/>
<polygon points="2037.8,1450.0 2058.3,1471.0 2037.8,1492.0 2017.3,1471.0" fill="#f030f0"/>
<path d="M394.2,181.3H455.3M498.2,181.3H558.9" stroke="#000000" stroke-width="7.5" stroke-linecap="round" fill="none"/>
<rect x="461.5" y="166.3" width="30" height="30" fill="#000000"/>
<text x="782.5" y="205.8" font-family="'Liberation Serif','Times New Roman',serif" font-size="74" text-anchor="end">500 d</text>
<path d="M394.2,271.8H455.3M498.2,271.8H558.9" stroke="#ff0000" stroke-width="7.5" stroke-linecap="round" fill="none"/>
<circle cx="476.5" cy="271.8" r="17.5" fill="#ff0000"/>
<text x="782.5" y="296.3" font-family="'Liberation Serif','Times New Roman',serif" font-size="74" text-anchor="end">750 d</text>
<path d="M394.2,363.2H455.3M498.2,363.2H558.9" stroke="#0000ff" stroke-width="7.5" stroke-linecap="round" fill="none"/>
<polygon points="476.5,339.9 496.5,374.9 456.5,374.9" fill="#0000ff"/>
<text x="782.5" y="387.7" font-family="'Liberation Serif','Times New Roman',serif" font-size="74" text-anchor="end">1000 d</text>
<path d="M394.2,454.8H455.3M498.2,454.8H558.9" stroke="#008000" stroke-width="7.5" stroke-linecap="round" fill="none"/>
<polygon points="456.5,443.1 496.5,443.1 476.5,478.1" fill="#008000"/>
<text x="782.5" y="479.3" font-family="'Liberation Serif','Times New Roman',serif" font-size="74" text-anchor="end">1250 d</text>
<path d="M394.2,546.3H455.3M498.2,546.3H558.9" stroke="#f030f0" stroke-width="7.5" stroke-linecap="round" fill="none"/>
<polygon points="476.5,523.3 494.5,546.3 476.5,569.3 458.5,546.3" fill="#f030f0"/>
<text x="782.5" y="570.8" font-family="'Liberation Serif','Times New Roman',serif" font-size="74" text-anchor="end">1500 d</text>
</svg></body></html>
